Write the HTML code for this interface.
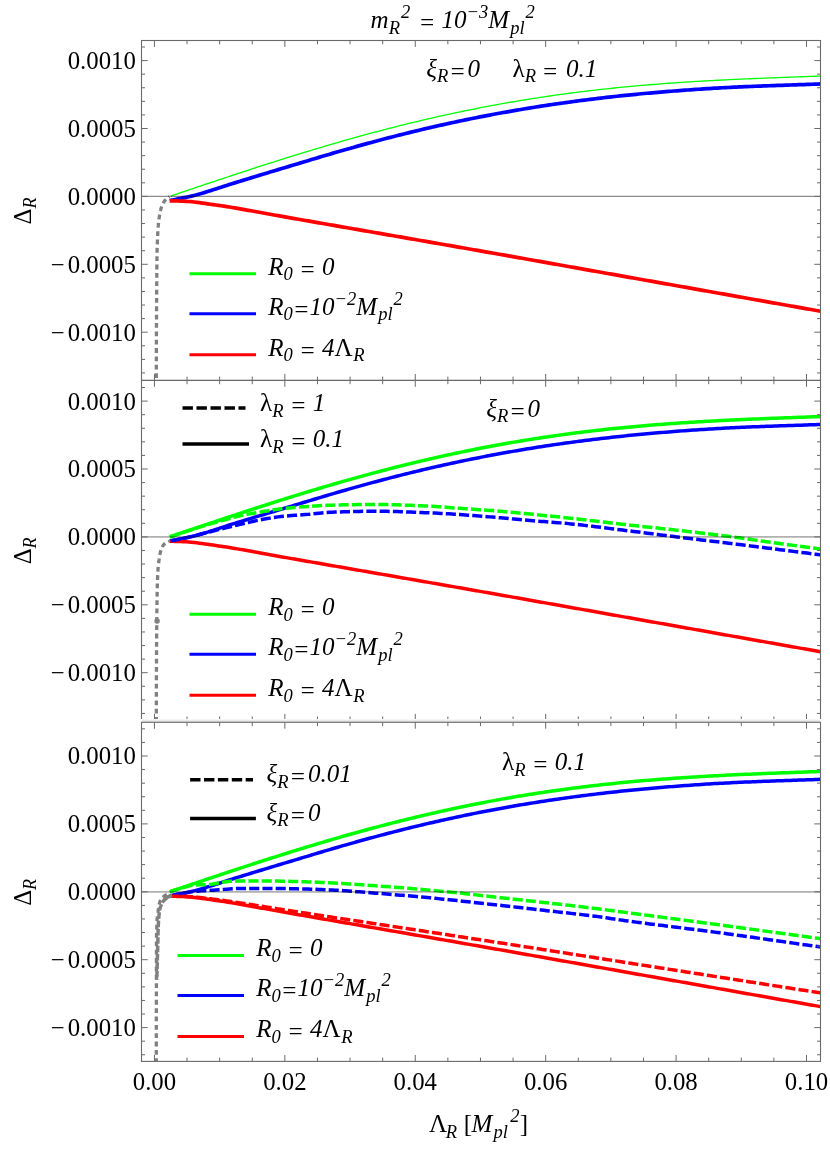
<!DOCTYPE html>
<html><head><meta charset="utf-8"><title>plot</title>
<style>html,body{margin:0;padding:0;background:#fff;}body{width:830px;height:1149px;overflow:hidden;font-family:"Liberation Serif",serif;}</style></head>
<body>
<svg width="830" height="1149" viewBox="0 0 830 1149" style="display:block;will-change:transform">
<rect width="830" height="1149" fill="#fff"/>
<defs>
<clipPath id="cp0"><rect x="141.50" y="40.50" width="679.00" height="339.90"/></clipPath>
<clipPath id="cp1"><rect x="141.50" y="380.40" width="679.00" height="339.90"/></clipPath>
<clipPath id="cp2"><rect x="141.50" y="722.30" width="679.00" height="339.10"/></clipPath>
</defs>
<g clip-path="url(#cp0)">
<path d="M169.30 196.65 L168.75 197.03 L168.21 197.40 L167.70 197.78 L167.23 198.16 L166.79 198.53 L166.39 198.91 L166.01 199.29 L165.64 199.66 L165.30 200.04 L164.97 200.42 L164.66 200.79 L164.38 201.17 L164.12 201.55 L163.89 201.92 L163.67 202.30 L163.46 202.68 L163.26 203.05 L163.06 203.43 L162.88 203.81 L162.69 204.18 L162.52 204.56 L162.35 204.93 L162.18 205.31 L162.02 205.69 L161.87 206.06 L161.72 206.44 L161.58 206.82 L161.45 207.19 L161.32 207.57 L161.20 207.95 L161.08 208.32 L160.97 208.70 L160.86 209.08 L160.76 209.45 L160.67 209.83 L160.57 210.21 L160.48 210.58 L160.40 210.96 L160.31 211.34 L160.23 211.71 L160.15 212.09 L160.08 212.47 L160.01 212.84 L159.94 213.22 L159.87 213.60 L159.80 213.97 L159.74 214.35 L159.67 214.73 L159.61 215.10 L159.55 215.48 L159.49 215.86 L159.43 216.23 L159.38 216.61 L159.32 216.99 L159.26 217.36 L159.21 217.74 L159.15 218.12 L159.10 218.49 L159.05 218.87 L158.99 219.24 L158.94 219.62 L158.89 220.00 L158.84 220.37 L158.79 220.75 L158.74 221.13 L158.69 221.50 L158.65 221.88 L158.60 222.26 L158.56 222.63 L158.51 223.01 L158.47 223.39 L158.43 223.76 L158.39 224.14 L158.35 224.52 L158.31 224.89 L158.28 225.27 L158.25 225.65 L158.21 226.02 L158.18 226.40 L158.15 226.90 L158.01 228.87 L157.89 230.84 L157.79 232.81 L157.69 234.77 L157.59 236.74 L157.51 238.71 L157.43 240.68 L157.36 242.65 L157.28 244.62 L157.20 246.58 L157.13 248.55 L157.09 250.52 L157.06 252.49 L157.03 254.46 L157.00 256.43 L156.97 258.39 L156.95 260.36 L156.92 262.33 L156.90 264.30 L156.88 266.27 L156.86 268.24 L156.85 270.20 L156.83 272.17 L156.81 274.14 L156.80 276.11 L156.79 278.08 L156.77 280.05 L156.76 282.01 L156.74 283.98 L156.73 285.95 L156.72 287.92 L156.70 289.89 L156.69 291.86 L156.67 293.82 L156.66 295.79 L156.64 297.76 L156.63 299.73 L156.61 301.70 L156.60 303.67 L156.59 305.63 L156.57 307.60 L156.56 309.57 L156.54 311.54 L156.53 313.51 L156.52 315.48 L156.51 317.44 L156.50 319.41 L156.48 321.38 L156.47 323.35 L156.46 325.32 L156.45 327.29 L156.44 329.25 L156.43 331.22 L156.43 333.19 L156.42 335.16 L156.41 337.13 L156.40 339.10 L156.40 341.06 L156.39 343.03 L156.38 345.00 L156.38 346.97 L156.37 348.94 L156.37 350.91 L156.36 352.87 L156.36 354.84 L156.35 356.81 L156.34 358.78 L156.34 360.75 L156.33 362.72 L156.33 364.68 L156.33 366.65 L156.32 368.62 L156.32 370.59 L156.31 372.56 L156.31 374.53 L156.31 376.49 L156.31 378.46 L156.30 380.43 L156.30 382.40" stroke="#808080" stroke-width="3.30" stroke-dasharray="4.80 3.55" stroke-dashoffset="3.97" fill="none"/>
<path d="M170.61 196.09 L173.32 195.18 L176.03 194.27 L178.73 193.35 L181.44 192.44 L184.15 191.53 L186.86 190.61 L189.57 189.70 L192.27 188.79 L194.98 187.88 L197.69 186.96 L200.40 186.05 L203.11 185.14 L205.81 184.24 L208.52 183.33 L211.23 182.42 L213.94 181.51 L216.65 180.61 L219.35 179.71 L222.06 178.80 L224.77 177.90 L227.48 177.00 L230.19 176.11 L232.89 175.21 L235.60 174.32 L238.31 173.42 L241.02 172.53 L243.73 171.64 L246.43 170.76 L249.14 169.87 L251.85 168.99 L254.56 168.11 L257.27 167.23 L259.97 166.36 L262.68 165.48 L265.39 164.61 L268.10 163.74 L270.81 162.88 L273.51 162.02 L276.22 161.16 L278.93 160.30 L281.64 159.44 L284.35 158.59 L287.05 157.74 L289.76 156.90 L292.47 156.06 L295.18 155.22 L297.88 154.38 L300.59 153.55 L303.30 152.72 L306.01 151.89 L308.72 151.07 L311.42 150.25 L314.13 149.43 L316.84 148.62 L319.55 147.81 L322.26 147.01 L324.96 146.21 L327.67 145.41 L330.38 144.62 L333.09 143.83 L335.80 143.04 L338.50 142.26 L341.21 141.48 L343.92 140.71 L346.63 139.94 L349.34 139.18 L352.04 138.42 L354.75 137.66 L357.46 136.91 L360.17 136.16 L362.88 135.41 L365.58 134.68 L368.29 133.94 L371.00 133.21 L373.71 132.48 L376.42 131.76 L379.12 131.05 L381.83 130.33 L384.54 129.63 L387.25 128.92 L389.96 128.22 L392.66 127.53 L395.37 126.84 L398.08 126.16 L400.79 125.48 L403.49 124.80 L406.20 124.14 L408.91 123.47 L411.62 122.81 L414.33 122.16 L417.03 121.51 L419.74 120.86 L422.45 120.22 L425.16 119.59 L427.87 118.96 L430.57 118.33 L433.28 117.71 L435.99 117.10 L438.70 116.49 L441.41 115.88 L444.11 115.28 L446.82 114.69 L449.53 114.10 L452.24 113.52 L454.95 112.94 L457.65 112.37 L460.36 111.80 L463.07 111.24 L465.78 110.68 L468.49 110.13 L471.19 109.58 L473.90 109.04 L476.61 108.50 L479.32 107.97 L482.03 107.44 L484.73 106.92 L487.44 106.41 L490.15 105.90 L492.86 105.39 L495.57 104.89 L498.27 104.40 L500.98 103.91 L503.69 103.42 L506.40 102.94 L509.10 102.47 L511.81 102.00 L514.52 101.54 L517.23 101.08 L519.94 100.63 L522.64 100.18 L525.35 99.74 L528.06 99.30 L530.77 98.87 L533.48 98.44 L536.18 98.02 L538.89 97.61 L541.60 97.20 L544.31 96.79 L547.02 96.39 L549.72 95.99 L552.43 95.60 L555.14 95.22 L557.85 94.84 L560.56 94.46 L563.26 94.09 L565.97 93.73 L568.68 93.37 L571.39 93.01 L574.10 92.66 L576.80 92.31 L579.51 91.97 L582.22 91.64 L584.93 91.31 L587.64 90.98 L590.34 90.66 L593.05 90.34 L595.76 90.03 L598.47 89.72 L601.18 89.42 L603.88 89.12 L606.59 88.83 L609.30 88.54 L612.01 88.26 L614.72 87.98 L617.42 87.70 L620.13 87.43 L622.84 87.16 L625.55 86.90 L628.25 86.64 L630.96 86.39 L633.67 86.14 L636.38 85.90 L639.09 85.65 L641.79 85.42 L644.50 85.18 L647.21 84.96 L649.92 84.73 L652.63 84.51 L655.33 84.29 L658.04 84.08 L660.75 83.87 L663.46 83.66 L666.17 83.46 L668.87 83.26 L671.58 83.07 L674.29 82.88 L677.00 82.69 L679.71 82.51 L682.41 82.33 L685.12 82.15 L687.83 81.97 L690.54 81.80 L693.25 81.63 L695.95 81.47 L698.66 81.31 L701.37 81.15 L704.08 80.99 L706.79 80.84 L709.49 80.69 L712.20 80.54 L714.91 80.40 L717.62 80.25 L720.33 80.12 L723.03 79.98 L725.74 79.84 L728.45 79.71 L731.16 79.58 L733.86 79.45 L736.57 79.33 L739.28 79.20 L741.99 79.08 L744.70 78.96 L747.40 78.84 L750.11 78.73 L752.82 78.61 L755.53 78.50 L758.24 78.39 L760.94 78.28 L763.65 78.17 L766.36 78.06 L769.07 77.96 L771.78 77.85 L774.48 77.75 L777.19 77.64 L779.90 77.54 L782.61 77.44 L785.32 77.34 L788.02 77.24 L790.73 77.14 L793.44 77.04 L796.15 76.95 L798.86 76.85 L801.56 76.75 L804.27 76.65 L806.98 76.56 L809.69 76.46 L812.40 76.36 L815.10 76.26 L817.81 76.17 L820.52 76.07" stroke="#00ff00" stroke-width="1.3" fill="none"/>
<path d="M169.70 200.53 L172.41 199.99 L175.12 199.45 L177.83 198.90 L180.55 198.37 L183.26 197.85 L185.97 197.32 L188.68 196.74 L191.39 196.11 L194.10 195.45 L196.82 194.75 L199.53 193.99 L202.24 193.20 L204.95 192.38 L207.66 191.55 L210.37 190.70 L213.09 189.84 L215.80 188.96 L218.51 188.08 L221.22 187.19 L223.93 186.29 L226.65 185.40 L229.36 184.52 L232.07 183.68 L234.78 182.86 L237.49 182.04 L240.20 181.21 L242.92 180.36 L245.63 179.53 L248.34 178.69 L251.05 177.86 L253.76 177.03 L256.47 176.20 L259.19 175.37 L261.90 174.55 L264.61 173.73 L267.32 172.90 L270.03 172.09 L272.74 171.27 L275.46 170.45 L278.17 169.63 L280.88 168.82 L283.59 168.00 L286.30 167.19 L289.02 166.37 L291.73 165.56 L294.44 164.74 L297.15 163.93 L299.86 163.11 L302.57 162.29 L305.29 161.47 L308.00 160.66 L310.71 159.84 L313.42 159.02 L316.13 158.20 L318.84 157.39 L321.56 156.58 L324.27 155.78 L326.98 154.98 L329.69 154.18 L332.40 153.38 L335.12 152.59 L337.83 151.80 L340.54 151.02 L343.25 150.24 L345.96 149.46 L348.67 148.69 L351.39 147.92 L354.10 147.16 L356.81 146.40 L359.52 145.64 L362.23 144.89 L364.94 144.14 L367.66 143.40 L370.37 142.66 L373.08 141.93 L375.79 141.20 L378.50 140.47 L381.22 139.75 L383.93 139.04 L386.64 138.33 L389.35 137.62 L392.06 136.92 L394.77 136.23 L397.49 135.54 L400.20 134.85 L402.91 134.17 L405.62 133.50 L408.33 132.83 L411.04 132.16 L413.76 131.50 L416.47 130.84 L419.18 130.19 L421.89 129.55 L424.60 128.91 L427.31 128.27 L430.03 127.64 L432.74 127.02 L435.45 126.40 L438.16 125.78 L440.87 125.17 L443.59 124.57 L446.30 123.97 L449.01 123.37 L451.72 122.78 L454.43 122.20 L457.14 121.62 L459.86 121.04 L462.57 120.47 L465.28 119.91 L467.99 119.35 L470.70 118.80 L473.41 118.25 L476.13 117.70 L478.84 117.16 L481.55 116.63 L484.26 116.10 L486.97 115.58 L489.69 115.06 L492.40 114.55 L495.11 114.04 L497.82 113.54 L500.53 113.04 L503.24 112.55 L505.96 112.06 L508.67 111.57 L511.38 111.10 L514.09 110.62 L516.80 110.16 L519.51 109.70 L522.23 109.24 L524.94 108.79 L527.65 108.34 L530.36 107.90 L533.07 107.46 L535.79 107.03 L538.50 106.60 L541.21 106.18 L543.92 105.76 L546.63 105.35 L549.34 104.94 L552.06 104.54 L554.77 104.14 L557.48 103.75 L560.19 103.36 L562.90 102.98 L565.61 102.60 L568.33 102.23 L571.04 101.86 L573.75 101.49 L576.46 101.13 L579.17 100.77 L581.88 100.42 L584.60 100.07 L587.31 99.73 L590.02 99.39 L592.73 99.06 L595.44 98.73 L598.16 98.40 L600.87 98.08 L603.58 97.76 L606.29 97.45 L609.00 97.14 L611.71 96.83 L614.43 96.53 L617.14 96.24 L619.85 95.95 L622.56 95.66 L625.27 95.38 L627.98 95.10 L630.70 94.83 L633.41 94.56 L636.12 94.29 L638.83 94.03 L641.54 93.78 L644.26 93.53 L646.97 93.28 L649.68 93.04 L652.39 92.80 L655.10 92.56 L657.81 92.33 L660.53 92.10 L663.24 91.87 L665.95 91.65 L668.66 91.43 L671.37 91.22 L674.08 91.00 L676.80 90.79 L679.51 90.59 L682.22 90.38 L684.93 90.18 L687.64 89.99 L690.36 89.80 L693.07 89.61 L695.78 89.42 L698.49 89.24 L701.20 89.06 L703.91 88.89 L706.63 88.71 L709.34 88.55 L712.05 88.38 L714.76 88.22 L717.47 88.07 L720.18 87.91 L722.90 87.76 L725.61 87.62 L728.32 87.48 L731.03 87.34 L733.74 87.21 L736.45 87.08 L739.17 86.95 L741.88 86.83 L744.59 86.71 L747.30 86.59 L750.01 86.48 L752.73 86.37 L755.44 86.26 L758.15 86.15 L760.86 86.05 L763.57 85.95 L766.28 85.85 L769.00 85.75 L771.71 85.66 L774.42 85.56 L777.13 85.47 L779.84 85.37 L782.55 85.28 L785.27 85.19 L787.98 85.09 L790.69 85.00 L793.40 84.91 L796.11 84.81 L798.83 84.72 L801.54 84.63 L804.25 84.53 L806.96 84.43 L809.67 84.34 L812.38 84.24 L815.10 84.14 L817.81 84.04 L820.52 83.94" stroke="#0000ff" stroke-width="3.7" fill="none"/>
<path d="M169.70 200.83 L172.41 200.86 L175.12 200.91 L177.83 200.98 L180.55 201.06 L183.26 201.17 L185.97 201.32 L188.68 201.49 L191.39 201.71 L194.10 202.01 L196.82 202.35 L199.53 202.69 L202.24 203.05 L204.95 203.43 L207.66 203.82 L210.37 204.21 L213.09 204.60 L215.80 205.00 L218.51 205.40 L221.22 205.79 L223.93 206.19 L226.65 206.60 L229.36 207.02 L232.07 207.47 L234.78 207.92 L237.49 208.39 L240.20 208.86 L242.92 209.34 L245.63 209.82 L248.34 210.31 L251.05 210.80 L253.76 211.29 L256.47 211.78 L259.19 212.27 L261.90 212.76 L264.61 213.24 L267.32 213.73 L270.03 214.22 L272.74 214.71 L275.46 215.20 L278.17 215.69 L280.88 216.17 L283.59 216.66 L286.30 217.14 L289.02 217.62 L291.73 218.10 L294.44 218.57 L297.15 219.05 L299.86 219.52 L302.57 219.99 L305.29 220.46 L308.00 220.93 L310.71 221.40 L313.42 221.87 L316.13 222.34 L318.84 222.82 L321.56 223.29 L324.27 223.76 L326.98 224.23 L329.69 224.70 L332.40 225.18 L335.12 225.65 L337.83 226.12 L340.54 226.59 L343.25 227.06 L345.96 227.53 L348.67 228.00 L351.39 228.47 L354.10 228.95 L356.81 229.42 L359.52 229.89 L362.23 230.36 L364.94 230.83 L367.66 231.30 L370.37 231.77 L373.08 232.24 L375.79 232.71 L378.50 233.18 L381.22 233.65 L383.93 234.12 L386.64 234.59 L389.35 235.06 L392.06 235.53 L394.77 236.00 L397.49 236.47 L400.20 236.94 L402.91 237.41 L405.62 237.88 L408.33 238.35 L411.04 238.83 L413.76 239.30 L416.47 239.77 L419.18 240.24 L421.89 240.71 L424.60 241.18 L427.31 241.65 L430.03 242.12 L432.74 242.60 L435.45 243.07 L438.16 243.54 L440.87 244.01 L443.59 244.49 L446.30 244.96 L449.01 245.43 L451.72 245.90 L454.43 246.38 L457.14 246.85 L459.86 247.32 L462.57 247.80 L465.28 248.27 L467.99 248.75 L470.70 249.22 L473.41 249.70 L476.13 250.17 L478.84 250.65 L481.55 251.13 L484.26 251.60 L486.97 252.08 L489.69 252.56 L492.40 253.03 L495.11 253.51 L497.82 253.99 L500.53 254.47 L503.24 254.94 L505.96 255.42 L508.67 255.90 L511.38 256.38 L514.09 256.86 L516.80 257.34 L519.51 257.82 L522.23 258.30 L524.94 258.78 L527.65 259.26 L530.36 259.74 L533.07 260.22 L535.79 260.70 L538.50 261.18 L541.21 261.66 L543.92 262.14 L546.63 262.62 L549.34 263.10 L552.06 263.58 L554.77 264.06 L557.48 264.54 L560.19 265.02 L562.90 265.51 L565.61 265.99 L568.33 266.47 L571.04 266.95 L573.75 267.43 L576.46 267.91 L579.17 268.40 L581.88 268.88 L584.60 269.36 L587.31 269.84 L590.02 270.33 L592.73 270.81 L595.44 271.29 L598.16 271.77 L600.87 272.25 L603.58 272.74 L606.29 273.22 L609.00 273.70 L611.71 274.18 L614.43 274.67 L617.14 275.15 L619.85 275.63 L622.56 276.11 L625.27 276.60 L627.98 277.08 L630.70 277.56 L633.41 278.04 L636.12 278.52 L638.83 279.01 L641.54 279.49 L644.26 279.97 L646.97 280.45 L649.68 280.93 L652.39 281.42 L655.10 281.90 L657.81 282.38 L660.53 282.86 L663.24 283.34 L665.95 283.82 L668.66 284.30 L671.37 284.78 L674.08 285.27 L676.80 285.75 L679.51 286.23 L682.22 286.71 L684.93 287.19 L687.64 287.67 L690.36 288.15 L693.07 288.63 L695.78 289.11 L698.49 289.59 L701.20 290.08 L703.91 290.56 L706.63 291.04 L709.34 291.52 L712.05 292.00 L714.76 292.48 L717.47 292.96 L720.18 293.45 L722.90 293.93 L725.61 294.41 L728.32 294.89 L731.03 295.37 L733.74 295.85 L736.45 296.33 L739.17 296.82 L741.88 297.30 L744.59 297.78 L747.30 298.26 L750.01 298.74 L752.73 299.22 L755.44 299.70 L758.15 300.18 L760.86 300.66 L763.57 301.14 L766.28 301.63 L769.00 302.11 L771.71 302.59 L774.42 303.07 L777.13 303.55 L779.84 304.03 L782.55 304.51 L785.27 304.99 L787.98 305.47 L790.69 305.95 L793.40 306.43 L796.11 306.90 L798.83 307.38 L801.54 307.86 L804.25 308.34 L806.96 308.82 L809.67 309.30 L812.38 309.78 L815.10 310.25 L817.81 310.73 L820.52 311.21" stroke="#ff0000" stroke-width="3.7" fill="none"/>
<path d="M141.50 196.40 H820.50" stroke="#000" stroke-opacity="0.45" stroke-width="1.1" fill="none"/>
</g>
<g clip-path="url(#cp1)">
<path d="M169.30 541.20 L168.56 541.53 L167.86 541.85 L167.21 542.18 L166.62 542.50 L166.11 542.83 L165.62 543.15 L165.15 543.48 L164.71 543.80 L164.31 544.13 L163.94 544.45 L163.63 544.78 L163.37 545.10 L163.15 545.43 L162.95 545.75 L162.76 546.08 L162.57 546.41 L162.40 546.73 L162.23 547.06 L162.07 547.38 L161.92 547.71 L161.77 548.03 L161.63 548.36 L161.50 548.68 L161.37 549.01 L161.25 549.33 L161.14 549.66 L161.02 549.98 L160.92 550.31 L160.82 550.63 L160.72 550.96 L160.63 551.28 L160.54 551.61 L160.46 551.94 L160.38 552.26 L160.30 552.59 L160.22 552.91 L160.15 553.24 L160.08 553.56 L160.01 553.89 L159.94 554.21 L159.88 554.54 L159.81 554.86 L159.76 555.19 L159.70 555.51 L159.64 555.84 L159.59 556.16 L159.54 556.49 L159.48 556.82 L159.44 557.14 L159.39 557.47 L159.34 557.79 L159.29 558.12 L159.25 558.44 L159.20 558.77 L159.16 559.09 L159.12 559.42 L159.08 559.74 L159.03 560.07 L158.99 560.39 L158.95 560.72 L158.91 561.04 L158.87 561.37 L158.82 561.69 L158.78 562.02 L158.74 562.35 L158.70 562.67 L158.66 563.00 L158.62 563.32 L158.58 563.65 L158.54 563.97 L158.50 564.30 L158.46 564.62 L158.42 564.95 L158.38 565.27 L158.35 565.60 L158.31 565.92 L158.28 566.25 L158.24 566.57 L158.21 566.90 L158.16 567.40 L158.00 569.36 L157.88 571.32 L157.78 573.28 L157.70 575.24 L157.62 577.20 L157.54 579.16 L157.46 581.13 L157.39 583.09 L157.33 585.05 L157.29 587.01 L157.25 588.97 L157.21 590.93 L157.17 592.89 L157.13 594.85 L157.10 596.81 L157.07 598.77 L157.04 600.73 L157.01 602.69 L156.98 604.65 L156.95 606.62 L156.93 608.58 L156.90 610.54 L156.88 612.50 L156.85 614.46 L156.83 616.42 L156.81 618.38 L156.79 620.34 L156.77 622.30 L156.75 624.26 L156.74 626.22 L156.72 628.18 L156.70 630.14 L156.69 632.11 L156.67 634.07 L156.65 636.03 L156.64 637.99 L156.62 639.95 L156.61 641.91 L156.60 643.87 L156.58 645.83 L156.57 647.79 L156.55 649.75 L156.54 651.71 L156.53 653.67 L156.52 655.63 L156.50 657.59 L156.49 659.56 L156.48 661.52 L156.47 663.48 L156.46 665.44 L156.45 667.40 L156.44 669.36 L156.43 671.32 L156.43 673.28 L156.42 675.24 L156.41 677.20 L156.40 679.16 L156.40 681.12 L156.39 683.08 L156.39 685.05 L156.38 687.01 L156.37 688.97 L156.37 690.93 L156.36 692.89 L156.36 694.85 L156.35 696.81 L156.35 698.77 L156.34 700.73 L156.34 702.69 L156.33 704.65 L156.33 706.61 L156.32 708.57 L156.32 710.54 L156.32 712.50 L156.31 714.46 L156.31 716.42 L156.31 718.38 L156.30 720.34 L156.30 722.30" stroke="#808080" stroke-width="3.30" stroke-dasharray="4.80 3.55" stroke-dashoffset="3.70" fill="none"/>
<circle cx="157.1" cy="621.0" r="2.7" fill="#808080"/>
<path d="M169.70 536.90 L172.41 535.99 L175.12 535.07 L177.83 534.16 L180.55 533.24 L183.26 532.33 L185.97 531.41 L188.68 530.50 L191.39 529.58 L194.10 528.67 L196.82 527.76 L199.53 526.85 L202.24 525.94 L204.95 525.03 L207.66 524.12 L210.37 523.21 L213.09 522.30 L215.80 521.39 L218.51 520.49 L221.22 519.58 L223.93 518.68 L226.65 517.78 L229.36 516.88 L232.07 515.98 L234.78 515.09 L237.49 514.19 L240.20 513.30 L242.92 512.41 L245.63 511.52 L248.34 510.64 L251.05 509.75 L253.76 508.87 L256.47 507.99 L259.19 507.11 L261.90 506.24 L264.61 505.36 L267.32 504.49 L270.03 503.63 L272.74 502.76 L275.46 501.90 L278.17 501.04 L280.88 500.18 L283.59 499.33 L286.30 498.48 L289.02 497.63 L291.73 496.79 L294.44 495.94 L297.15 495.11 L299.86 494.27 L302.57 493.44 L305.29 492.61 L308.00 491.79 L310.71 490.97 L313.42 490.15 L316.13 489.33 L318.84 488.52 L321.56 487.72 L324.27 486.91 L326.98 486.11 L329.69 485.32 L332.40 484.53 L335.12 483.74 L337.83 482.96 L340.54 482.18 L343.25 481.40 L345.96 480.63 L348.67 479.86 L351.39 479.10 L354.10 478.34 L356.81 477.59 L359.52 476.84 L362.23 476.09 L364.94 475.35 L367.66 474.61 L370.37 473.88 L373.08 473.15 L375.79 472.43 L378.50 471.71 L381.22 471.00 L383.93 470.29 L386.64 469.58 L389.35 468.88 L392.06 468.18 L394.77 467.49 L397.49 466.81 L400.20 466.13 L402.91 465.45 L405.62 464.78 L408.33 464.11 L411.04 463.45 L413.76 462.79 L416.47 462.14 L419.18 461.50 L421.89 460.85 L424.60 460.22 L427.31 459.58 L430.03 458.96 L432.74 458.34 L435.45 457.72 L438.16 457.11 L440.87 456.50 L443.59 455.90 L446.30 455.31 L449.01 454.71 L451.72 454.13 L454.43 453.55 L457.14 452.97 L459.86 452.40 L462.57 451.84 L465.28 451.28 L467.99 450.73 L470.70 450.18 L473.41 449.63 L476.13 449.09 L478.84 448.56 L481.55 448.03 L484.26 447.51 L486.97 446.99 L489.69 446.48 L492.40 445.98 L495.11 445.47 L497.82 444.98 L500.53 444.49 L503.24 444.00 L505.96 443.52 L508.67 443.05 L511.38 442.58 L514.09 442.11 L516.80 441.65 L519.51 441.20 L522.23 440.75 L524.94 440.31 L527.65 439.87 L530.36 439.44 L533.07 439.01 L535.79 438.59 L538.50 438.17 L541.21 437.76 L543.92 437.35 L546.63 436.95 L549.34 436.55 L552.06 436.16 L554.77 435.77 L557.48 435.39 L560.19 435.01 L562.90 434.64 L565.61 434.27 L568.33 433.91 L571.04 433.56 L573.75 433.20 L576.46 432.86 L579.17 432.52 L581.88 432.18 L584.60 431.85 L587.31 431.52 L590.02 431.20 L592.73 430.88 L595.44 430.57 L598.16 430.26 L600.87 429.96 L603.58 429.66 L606.29 429.36 L609.00 429.07 L611.71 428.79 L614.43 428.51 L617.14 428.23 L619.85 427.96 L622.56 427.69 L625.27 427.43 L627.98 427.17 L630.70 426.91 L633.41 426.66 L636.12 426.42 L638.83 426.18 L641.54 425.94 L644.26 425.71 L646.97 425.48 L649.68 425.25 L652.39 425.03 L655.10 424.81 L657.81 424.60 L660.53 424.39 L663.24 424.18 L665.95 423.98 L668.66 423.78 L671.37 423.58 L674.08 423.39 L676.80 423.20 L679.51 423.02 L682.22 422.84 L684.93 422.66 L687.64 422.49 L690.36 422.31 L693.07 422.15 L695.78 421.98 L698.49 421.82 L701.20 421.66 L703.91 421.50 L706.63 421.35 L709.34 421.20 L712.05 421.05 L714.76 420.91 L717.47 420.76 L720.18 420.62 L722.90 420.48 L725.61 420.35 L728.32 420.22 L731.03 420.09 L733.74 419.96 L736.45 419.83 L739.17 419.71 L741.88 419.59 L744.59 419.47 L747.30 419.35 L750.01 419.23 L752.73 419.12 L755.44 419.00 L758.15 418.89 L760.86 418.78 L763.57 418.67 L766.28 418.57 L769.00 418.46 L771.71 418.35 L774.42 418.25 L777.13 418.15 L779.84 418.05 L782.55 417.94 L785.27 417.84 L787.98 417.74 L790.69 417.64 L793.40 417.55 L796.11 417.45 L798.83 417.35 L801.54 417.25 L804.25 417.15 L806.96 417.06 L809.67 416.96 L812.38 416.86 L815.10 416.76 L817.81 416.67 L820.52 416.57" stroke="#00ff00" stroke-width="3.5" fill="none"/>
<path d="M169.70 541.03 L172.41 540.49 L175.12 539.95 L177.83 539.40 L180.55 538.87 L183.26 538.35 L185.97 537.82 L188.68 537.24 L191.39 536.61 L194.10 535.95 L196.82 535.25 L199.53 534.49 L202.24 533.70 L204.95 532.88 L207.66 532.05 L210.37 531.20 L213.09 530.34 L215.80 529.46 L218.51 528.58 L221.22 527.69 L223.93 526.79 L226.65 525.90 L229.36 525.02 L232.07 524.18 L234.78 523.36 L237.49 522.54 L240.20 521.71 L242.92 520.86 L245.63 520.03 L248.34 519.19 L251.05 518.36 L253.76 517.53 L256.47 516.70 L259.19 515.87 L261.90 515.05 L264.61 514.23 L267.32 513.40 L270.03 512.59 L272.74 511.77 L275.46 510.95 L278.17 510.13 L280.88 509.32 L283.59 508.50 L286.30 507.69 L289.02 506.87 L291.73 506.06 L294.44 505.24 L297.15 504.43 L299.86 503.61 L302.57 502.79 L305.29 501.97 L308.00 501.16 L310.71 500.34 L313.42 499.52 L316.13 498.70 L318.84 497.89 L321.56 497.08 L324.27 496.28 L326.98 495.48 L329.69 494.68 L332.40 493.88 L335.12 493.09 L337.83 492.30 L340.54 491.52 L343.25 490.74 L345.96 489.96 L348.67 489.19 L351.39 488.42 L354.10 487.66 L356.81 486.90 L359.52 486.14 L362.23 485.39 L364.94 484.64 L367.66 483.90 L370.37 483.16 L373.08 482.43 L375.79 481.70 L378.50 480.97 L381.22 480.25 L383.93 479.54 L386.64 478.83 L389.35 478.12 L392.06 477.42 L394.77 476.73 L397.49 476.04 L400.20 475.35 L402.91 474.67 L405.62 474.00 L408.33 473.33 L411.04 472.66 L413.76 472.00 L416.47 471.34 L419.18 470.69 L421.89 470.05 L424.60 469.41 L427.31 468.77 L430.03 468.14 L432.74 467.52 L435.45 466.90 L438.16 466.28 L440.87 465.67 L443.59 465.07 L446.30 464.47 L449.01 463.87 L451.72 463.28 L454.43 462.70 L457.14 462.12 L459.86 461.54 L462.57 460.97 L465.28 460.41 L467.99 459.85 L470.70 459.30 L473.41 458.75 L476.13 458.20 L478.84 457.66 L481.55 457.13 L484.26 456.60 L486.97 456.08 L489.69 455.56 L492.40 455.05 L495.11 454.54 L497.82 454.04 L500.53 453.54 L503.24 453.05 L505.96 452.56 L508.67 452.07 L511.38 451.60 L514.09 451.12 L516.80 450.66 L519.51 450.20 L522.23 449.74 L524.94 449.29 L527.65 448.84 L530.36 448.40 L533.07 447.96 L535.79 447.53 L538.50 447.10 L541.21 446.68 L543.92 446.26 L546.63 445.85 L549.34 445.44 L552.06 445.04 L554.77 444.64 L557.48 444.25 L560.19 443.86 L562.90 443.48 L565.61 443.10 L568.33 442.73 L571.04 442.36 L573.75 441.99 L576.46 441.63 L579.17 441.27 L581.88 440.92 L584.60 440.57 L587.31 440.23 L590.02 439.89 L592.73 439.56 L595.44 439.23 L598.16 438.90 L600.87 438.58 L603.58 438.26 L606.29 437.95 L609.00 437.64 L611.71 437.33 L614.43 437.03 L617.14 436.74 L619.85 436.45 L622.56 436.16 L625.27 435.88 L627.98 435.60 L630.70 435.33 L633.41 435.06 L636.12 434.79 L638.83 434.53 L641.54 434.28 L644.26 434.03 L646.97 433.78 L649.68 433.54 L652.39 433.30 L655.10 433.06 L657.81 432.83 L660.53 432.60 L663.24 432.37 L665.95 432.15 L668.66 431.93 L671.37 431.72 L674.08 431.50 L676.80 431.29 L679.51 431.09 L682.22 430.88 L684.93 430.68 L687.64 430.49 L690.36 430.30 L693.07 430.11 L695.78 429.92 L698.49 429.74 L701.20 429.56 L703.91 429.39 L706.63 429.21 L709.34 429.05 L712.05 428.88 L714.76 428.72 L717.47 428.57 L720.18 428.41 L722.90 428.26 L725.61 428.12 L728.32 427.98 L731.03 427.84 L733.74 427.71 L736.45 427.58 L739.17 427.45 L741.88 427.33 L744.59 427.21 L747.30 427.09 L750.01 426.98 L752.73 426.87 L755.44 426.76 L758.15 426.65 L760.86 426.55 L763.57 426.45 L766.28 426.35 L769.00 426.25 L771.71 426.16 L774.42 426.06 L777.13 425.97 L779.84 425.87 L782.55 425.78 L785.27 425.69 L787.98 425.59 L790.69 425.50 L793.40 425.41 L796.11 425.31 L798.83 425.22 L801.54 425.13 L804.25 425.03 L806.96 424.93 L809.67 424.84 L812.38 424.74 L815.10 424.64 L817.81 424.54 L820.52 424.44" stroke="#0000ff" stroke-width="3.5" fill="none"/>
<path d="M169.70 541.33 L172.41 541.36 L175.12 541.41 L177.83 541.48 L180.55 541.56 L183.26 541.67 L185.97 541.82 L188.68 541.99 L191.39 542.21 L194.10 542.51 L196.82 542.85 L199.53 543.19 L202.24 543.55 L204.95 543.93 L207.66 544.32 L210.37 544.71 L213.09 545.10 L215.80 545.50 L218.51 545.90 L221.22 546.29 L223.93 546.69 L226.65 547.10 L229.36 547.52 L232.07 547.97 L234.78 548.42 L237.49 548.89 L240.20 549.36 L242.92 549.84 L245.63 550.32 L248.34 550.81 L251.05 551.30 L253.76 551.79 L256.47 552.28 L259.19 552.77 L261.90 553.26 L264.61 553.74 L267.32 554.23 L270.03 554.72 L272.74 555.21 L275.46 555.70 L278.17 556.19 L280.88 556.67 L283.59 557.16 L286.30 557.64 L289.02 558.12 L291.73 558.60 L294.44 559.07 L297.15 559.55 L299.86 560.02 L302.57 560.49 L305.29 560.96 L308.00 561.43 L310.71 561.90 L313.42 562.37 L316.13 562.84 L318.84 563.32 L321.56 563.79 L324.27 564.26 L326.98 564.73 L329.69 565.20 L332.40 565.68 L335.12 566.15 L337.83 566.62 L340.54 567.09 L343.25 567.56 L345.96 568.03 L348.67 568.50 L351.39 568.97 L354.10 569.45 L356.81 569.92 L359.52 570.39 L362.23 570.86 L364.94 571.33 L367.66 571.80 L370.37 572.27 L373.08 572.74 L375.79 573.21 L378.50 573.68 L381.22 574.15 L383.93 574.62 L386.64 575.09 L389.35 575.56 L392.06 576.03 L394.77 576.50 L397.49 576.97 L400.20 577.44 L402.91 577.91 L405.62 578.38 L408.33 578.85 L411.04 579.33 L413.76 579.80 L416.47 580.27 L419.18 580.74 L421.89 581.21 L424.60 581.68 L427.31 582.15 L430.03 582.62 L432.74 583.10 L435.45 583.57 L438.16 584.04 L440.87 584.51 L443.59 584.99 L446.30 585.46 L449.01 585.93 L451.72 586.40 L454.43 586.88 L457.14 587.35 L459.86 587.82 L462.57 588.30 L465.28 588.77 L467.99 589.25 L470.70 589.72 L473.41 590.20 L476.13 590.67 L478.84 591.15 L481.55 591.63 L484.26 592.10 L486.97 592.58 L489.69 593.06 L492.40 593.53 L495.11 594.01 L497.82 594.49 L500.53 594.97 L503.24 595.44 L505.96 595.92 L508.67 596.40 L511.38 596.88 L514.09 597.36 L516.80 597.84 L519.51 598.32 L522.23 598.80 L524.94 599.28 L527.65 599.76 L530.36 600.24 L533.07 600.72 L535.79 601.20 L538.50 601.68 L541.21 602.16 L543.92 602.64 L546.63 603.12 L549.34 603.60 L552.06 604.08 L554.77 604.56 L557.48 605.04 L560.19 605.52 L562.90 606.01 L565.61 606.49 L568.33 606.97 L571.04 607.45 L573.75 607.93 L576.46 608.41 L579.17 608.90 L581.88 609.38 L584.60 609.86 L587.31 610.34 L590.02 610.83 L592.73 611.31 L595.44 611.79 L598.16 612.27 L600.87 612.75 L603.58 613.24 L606.29 613.72 L609.00 614.20 L611.71 614.68 L614.43 615.17 L617.14 615.65 L619.85 616.13 L622.56 616.61 L625.27 617.10 L627.98 617.58 L630.70 618.06 L633.41 618.54 L636.12 619.02 L638.83 619.51 L641.54 619.99 L644.26 620.47 L646.97 620.95 L649.68 621.43 L652.39 621.92 L655.10 622.40 L657.81 622.88 L660.53 623.36 L663.24 623.84 L665.95 624.32 L668.66 624.80 L671.37 625.28 L674.08 625.77 L676.80 626.25 L679.51 626.73 L682.22 627.21 L684.93 627.69 L687.64 628.17 L690.36 628.65 L693.07 629.13 L695.78 629.61 L698.49 630.09 L701.20 630.58 L703.91 631.06 L706.63 631.54 L709.34 632.02 L712.05 632.50 L714.76 632.98 L717.47 633.46 L720.18 633.95 L722.90 634.43 L725.61 634.91 L728.32 635.39 L731.03 635.87 L733.74 636.35 L736.45 636.83 L739.17 637.32 L741.88 637.80 L744.59 638.28 L747.30 638.76 L750.01 639.24 L752.73 639.72 L755.44 640.20 L758.15 640.68 L760.86 641.16 L763.57 641.64 L766.28 642.13 L769.00 642.61 L771.71 643.09 L774.42 643.57 L777.13 644.05 L779.84 644.53 L782.55 645.01 L785.27 645.49 L787.98 645.97 L790.69 646.45 L793.40 646.93 L796.11 647.40 L798.83 647.88 L801.54 648.36 L804.25 648.84 L806.96 649.32 L809.67 649.80 L812.38 650.28 L815.10 650.75 L817.81 651.23 L820.52 651.71" stroke="#ff0000" stroke-width="3.5" fill="none"/>
<path d="M169.70 536.90 L172.41 535.99 L175.12 535.09 L177.83 534.19 L180.55 533.30 L183.26 532.41 L185.97 531.53 L188.68 530.66 L191.39 529.78 L194.10 528.90 L196.82 528.03 L199.53 527.17 L202.24 526.33 L204.95 525.50 L207.66 524.70 L210.37 523.90 L213.09 523.10 L215.80 522.30 L218.51 521.51 L221.22 520.72 L223.93 519.95 L226.65 519.20 L229.36 518.46 L232.07 517.75 L234.78 517.07 L237.49 516.41 L240.20 515.79 L242.92 515.20 L245.63 514.65 L248.34 514.13 L251.05 513.63 L253.76 513.16 L256.47 512.70 L259.19 512.25 L261.90 511.80 L264.61 511.35 L267.32 510.90 L270.03 510.44 L272.74 510.00 L275.46 509.57 L278.17 509.17 L280.88 508.81 L283.59 508.50 L286.30 508.22 L289.02 507.95 L291.73 507.71 L294.44 507.47 L297.15 507.26 L299.86 507.05 L302.57 506.85 L305.29 506.66 L308.00 506.48 L310.71 506.30 L313.42 506.12 L316.13 505.94 L318.84 505.77 L321.56 505.61 L324.27 505.46 L326.98 505.32 L329.69 505.21 L332.40 505.13 L335.12 505.06 L337.83 504.99 L340.54 504.92 L343.25 504.86 L345.96 504.80 L348.67 504.74 L351.39 504.69 L354.10 504.64 L356.81 504.59 L359.52 504.55 L362.23 504.52 L364.94 504.49 L367.66 504.47 L370.37 504.45 L373.08 504.45 L375.79 504.44 L378.50 504.46 L381.22 504.48 L383.93 504.51 L386.64 504.56 L389.35 504.62 L392.06 504.68 L394.77 504.76 L397.49 504.84 L400.20 504.93 L402.91 505.03 L405.62 505.13 L408.33 505.24 L411.04 505.35 L413.76 505.47 L416.47 505.59 L419.18 505.71 L421.89 505.83 L424.60 505.96 L427.31 506.08 L430.03 506.20 L432.74 506.34 L435.45 506.49 L438.16 506.66 L440.87 506.85 L443.59 507.04 L446.30 507.25 L449.01 507.46 L451.72 507.67 L454.43 507.89 L457.14 508.10 L459.86 508.31 L462.57 508.51 L465.28 508.70 L467.99 508.88 L470.70 509.07 L473.41 509.25 L476.13 509.44 L478.84 509.63 L481.55 509.81 L484.26 510.00 L486.97 510.20 L489.69 510.40 L492.40 510.61 L495.11 510.82 L497.82 511.04 L500.53 511.27 L503.24 511.51 L505.96 511.75 L508.67 512.00 L511.38 512.25 L514.09 512.51 L516.80 512.76 L519.51 513.03 L522.23 513.29 L524.94 513.55 L527.65 513.81 L530.36 514.07 L533.07 514.34 L535.79 514.60 L538.50 514.87 L541.21 515.14 L543.92 515.41 L546.63 515.68 L549.34 515.96 L552.06 516.23 L554.77 516.51 L557.48 516.79 L560.19 517.08 L562.90 517.37 L565.61 517.66 L568.33 517.95 L571.04 518.25 L573.75 518.55 L576.46 518.86 L579.17 519.17 L581.88 519.48 L584.60 519.80 L587.31 520.11 L590.02 520.43 L592.73 520.75 L595.44 521.07 L598.16 521.39 L600.87 521.71 L603.58 522.04 L606.29 522.36 L609.00 522.68 L611.71 523.00 L614.43 523.32 L617.14 523.63 L619.85 523.94 L622.56 524.25 L625.27 524.56 L627.98 524.87 L630.70 525.17 L633.41 525.47 L636.12 525.77 L638.83 526.06 L641.54 526.36 L644.26 526.65 L646.97 526.94 L649.68 527.24 L652.39 527.53 L655.10 527.82 L657.81 528.11 L660.53 528.41 L663.24 528.70 L665.95 528.99 L668.66 529.29 L671.37 529.59 L674.08 529.88 L676.80 530.18 L679.51 530.49 L682.22 530.79 L684.93 531.10 L687.64 531.41 L690.36 531.73 L693.07 532.04 L695.78 532.36 L698.49 532.68 L701.20 533.01 L703.91 533.33 L706.63 533.66 L709.34 533.98 L712.05 534.32 L714.76 534.65 L717.47 534.99 L720.18 535.33 L722.90 535.67 L725.61 536.01 L728.32 536.36 L731.03 536.72 L733.74 537.07 L736.45 537.44 L739.17 537.81 L741.88 538.19 L744.59 538.57 L747.30 538.96 L750.01 539.35 L752.73 539.75 L755.44 540.14 L758.15 540.53 L760.86 540.93 L763.57 541.31 L766.28 541.70 L769.00 542.08 L771.71 542.46 L774.42 542.83 L777.13 543.20 L779.84 543.56 L782.55 543.93 L785.27 544.29 L787.98 544.65 L790.69 545.01 L793.40 545.37 L796.11 545.73 L798.83 546.09 L801.54 546.45 L804.25 546.81 L806.96 547.17 L809.67 547.52 L812.38 547.89 L815.10 548.25 L817.81 548.61 L820.52 548.98" stroke="#00ff00" stroke-width="3.50" stroke-dasharray="10.10 3.15" stroke-dashoffset="12.77" fill="none"/>
<path d="M169.70 541.04 L172.41 540.56 L175.12 540.06 L177.83 539.54 L180.55 538.99 L183.26 538.42 L185.97 537.84 L188.68 537.23 L191.39 536.58 L194.10 535.90 L196.82 535.19 L199.53 534.48 L202.24 533.77 L204.95 533.07 L207.66 532.38 L210.37 531.71 L213.09 531.02 L215.80 530.34 L218.51 529.66 L221.22 528.99 L223.93 528.31 L226.65 527.64 L229.36 526.97 L232.07 526.31 L234.78 525.66 L237.49 525.01 L240.20 524.37 L242.92 523.74 L245.63 523.11 L248.34 522.48 L251.05 521.85 L253.76 521.24 L256.47 520.65 L259.19 520.09 L261.90 519.56 L264.61 519.07 L267.32 518.59 L270.03 518.13 L272.74 517.68 L275.46 517.27 L278.17 516.88 L280.88 516.54 L283.59 516.24 L286.30 515.99 L289.02 515.76 L291.73 515.56 L294.44 515.37 L297.15 515.19 L299.86 515.01 L302.57 514.82 L305.29 514.61 L308.00 514.37 L310.71 514.10 L313.42 513.82 L316.13 513.53 L318.84 513.25 L321.56 512.97 L324.27 512.72 L326.98 512.50 L329.69 512.32 L332.40 512.19 L335.12 512.09 L337.83 511.99 L340.54 511.90 L343.25 511.81 L345.96 511.72 L348.67 511.64 L351.39 511.57 L354.10 511.50 L356.81 511.44 L359.52 511.38 L362.23 511.34 L364.94 511.30 L367.66 511.27 L370.37 511.25 L373.08 511.24 L375.79 511.23 L378.50 511.25 L381.22 511.27 L383.93 511.30 L386.64 511.34 L389.35 511.40 L392.06 511.46 L394.77 511.53 L397.49 511.61 L400.20 511.69 L402.91 511.78 L405.62 511.88 L408.33 511.98 L411.04 512.09 L413.76 512.19 L416.47 512.30 L419.18 512.41 L421.89 512.53 L424.60 512.64 L427.31 512.75 L430.03 512.86 L432.74 512.97 L435.45 513.10 L438.16 513.24 L440.87 513.38 L443.59 513.54 L446.30 513.70 L449.01 513.86 L451.72 514.03 L454.43 514.21 L457.14 514.39 L459.86 514.57 L462.57 514.75 L465.28 514.94 L467.99 515.13 L470.70 515.33 L473.41 515.54 L476.13 515.75 L478.84 515.97 L481.55 516.19 L484.26 516.42 L486.97 516.64 L489.69 516.87 L492.40 517.11 L495.11 517.34 L497.82 517.57 L500.53 517.81 L503.24 518.06 L505.96 518.32 L508.67 518.57 L511.38 518.83 L514.09 519.09 L516.80 519.35 L519.51 519.60 L522.23 519.85 L524.94 520.09 L527.65 520.33 L530.36 520.56 L533.07 520.78 L535.79 520.99 L538.50 521.19 L541.21 521.40 L543.92 521.60 L546.63 521.80 L549.34 522.00 L552.06 522.21 L554.77 522.42 L557.48 522.64 L560.19 522.87 L562.90 523.11 L565.61 523.36 L568.33 523.62 L571.04 523.89 L573.75 524.17 L576.46 524.46 L579.17 524.75 L581.88 525.06 L584.60 525.37 L587.31 525.69 L590.02 526.01 L592.73 526.34 L595.44 526.67 L598.16 527.00 L600.87 527.34 L603.58 527.68 L606.29 528.02 L609.00 528.37 L611.71 528.71 L614.43 529.05 L617.14 529.39 L619.85 529.73 L622.56 530.07 L625.27 530.40 L627.98 530.74 L630.70 531.08 L633.41 531.42 L636.12 531.76 L638.83 532.11 L641.54 532.45 L644.26 532.80 L646.97 533.15 L649.68 533.50 L652.39 533.85 L655.10 534.20 L657.81 534.54 L660.53 534.89 L663.24 535.24 L665.95 535.58 L668.66 535.92 L671.37 536.25 L674.08 536.59 L676.80 536.92 L679.51 537.26 L682.22 537.59 L684.93 537.92 L687.64 538.25 L690.36 538.58 L693.07 538.91 L695.78 539.24 L698.49 539.56 L701.20 539.89 L703.91 540.22 L706.63 540.55 L709.34 540.87 L712.05 541.20 L714.76 541.53 L717.47 541.86 L720.18 542.19 L722.90 542.52 L725.61 542.85 L728.32 543.18 L731.03 543.52 L733.74 543.85 L736.45 544.19 L739.17 544.53 L741.88 544.86 L744.59 545.20 L747.30 545.54 L750.01 545.88 L752.73 546.22 L755.44 546.56 L758.15 546.90 L760.86 547.24 L763.57 547.58 L766.28 547.92 L769.00 548.26 L771.71 548.61 L774.42 548.95 L777.13 549.29 L779.84 549.64 L782.55 549.98 L785.27 550.33 L787.98 550.68 L790.69 551.02 L793.40 551.37 L796.11 551.72 L798.83 552.06 L801.54 552.41 L804.25 552.76 L806.96 553.11 L809.67 553.46 L812.38 553.81 L815.10 554.16 L817.81 554.52 L820.52 554.87" stroke="#0000ff" stroke-width="3.50" stroke-dasharray="10.10 3.15" stroke-dashoffset="12.40" fill="none"/>
<path d="M141.50 536.90 H820.50" stroke="#000" stroke-opacity="0.31" stroke-width="1.8" fill="none"/>
</g>
<g clip-path="url(#cp2)">
<path d="M169.70 891.80 L172.41 890.89 L175.12 889.97 L177.83 889.06 L180.55 888.14 L183.26 887.23 L185.97 886.31 L188.68 885.40 L191.39 884.48 L194.10 883.57 L196.82 882.66 L199.53 881.75 L202.24 880.84 L204.95 879.93 L207.66 879.02 L210.37 878.11 L213.09 877.20 L215.80 876.29 L218.51 875.39 L221.22 874.48 L223.93 873.58 L226.65 872.68 L229.36 871.78 L232.07 870.88 L234.78 869.99 L237.49 869.09 L240.20 868.20 L242.92 867.31 L245.63 866.42 L248.34 865.54 L251.05 864.65 L253.76 863.77 L256.47 862.89 L259.19 862.01 L261.90 861.14 L264.61 860.26 L267.32 859.39 L270.03 858.53 L272.74 857.66 L275.46 856.80 L278.17 855.94 L280.88 855.08 L283.59 854.23 L286.30 853.38 L289.02 852.53 L291.73 851.69 L294.44 850.84 L297.15 850.01 L299.86 849.17 L302.57 848.34 L305.29 847.51 L308.00 846.69 L310.71 845.87 L313.42 845.05 L316.13 844.23 L318.84 843.42 L321.56 842.62 L324.27 841.81 L326.98 841.01 L329.69 840.22 L332.40 839.43 L335.12 838.64 L337.83 837.86 L340.54 837.08 L343.25 836.30 L345.96 835.53 L348.67 834.76 L351.39 834.00 L354.10 833.24 L356.81 832.49 L359.52 831.74 L362.23 830.99 L364.94 830.25 L367.66 829.51 L370.37 828.78 L373.08 828.05 L375.79 827.33 L378.50 826.61 L381.22 825.90 L383.93 825.19 L386.64 824.48 L389.35 823.78 L392.06 823.08 L394.77 822.39 L397.49 821.71 L400.20 821.03 L402.91 820.35 L405.62 819.68 L408.33 819.01 L411.04 818.35 L413.76 817.69 L416.47 817.04 L419.18 816.40 L421.89 815.75 L424.60 815.12 L427.31 814.48 L430.03 813.86 L432.74 813.24 L435.45 812.62 L438.16 812.01 L440.87 811.40 L443.59 810.80 L446.30 810.21 L449.01 809.61 L451.72 809.03 L454.43 808.45 L457.14 807.87 L459.86 807.30 L462.57 806.74 L465.28 806.18 L467.99 805.63 L470.70 805.08 L473.41 804.53 L476.13 803.99 L478.84 803.46 L481.55 802.93 L484.26 802.41 L486.97 801.89 L489.69 801.38 L492.40 800.88 L495.11 800.37 L497.82 799.88 L500.53 799.39 L503.24 798.90 L505.96 798.42 L508.67 797.95 L511.38 797.48 L514.09 797.01 L516.80 796.55 L519.51 796.10 L522.23 795.65 L524.94 795.21 L527.65 794.77 L530.36 794.34 L533.07 793.91 L535.79 793.49 L538.50 793.07 L541.21 792.66 L543.92 792.25 L546.63 791.85 L549.34 791.45 L552.06 791.06 L554.77 790.67 L557.48 790.29 L560.19 789.91 L562.90 789.54 L565.61 789.17 L568.33 788.81 L571.04 788.46 L573.75 788.10 L576.46 787.76 L579.17 787.42 L581.88 787.08 L584.60 786.75 L587.31 786.42 L590.02 786.10 L592.73 785.78 L595.44 785.47 L598.16 785.16 L600.87 784.86 L603.58 784.56 L606.29 784.26 L609.00 783.97 L611.71 783.69 L614.43 783.41 L617.14 783.13 L619.85 782.86 L622.56 782.59 L625.27 782.33 L627.98 782.07 L630.70 781.81 L633.41 781.56 L636.12 781.32 L638.83 781.08 L641.54 780.84 L644.26 780.61 L646.97 780.38 L649.68 780.15 L652.39 779.93 L655.10 779.71 L657.81 779.50 L660.53 779.29 L663.24 779.08 L665.95 778.88 L668.66 778.68 L671.37 778.48 L674.08 778.29 L676.80 778.10 L679.51 777.92 L682.22 777.74 L684.93 777.56 L687.64 777.39 L690.36 777.21 L693.07 777.05 L695.78 776.88 L698.49 776.72 L701.20 776.56 L703.91 776.40 L706.63 776.25 L709.34 776.10 L712.05 775.95 L714.76 775.81 L717.47 775.66 L720.18 775.52 L722.90 775.38 L725.61 775.25 L728.32 775.12 L731.03 774.99 L733.74 774.86 L736.45 774.73 L739.17 774.61 L741.88 774.49 L744.59 774.37 L747.30 774.25 L750.01 774.13 L752.73 774.02 L755.44 773.90 L758.15 773.79 L760.86 773.68 L763.57 773.57 L766.28 773.47 L769.00 773.36 L771.71 773.25 L774.42 773.15 L777.13 773.05 L779.84 772.95 L782.55 772.84 L785.27 772.74 L787.98 772.64 L790.69 772.54 L793.40 772.45 L796.11 772.35 L798.83 772.25 L801.54 772.15 L804.25 772.05 L806.96 771.96 L809.67 771.86 L812.38 771.76 L815.10 771.66 L817.81 771.57 L820.52 771.47" stroke="#00ff00" stroke-width="3.5" fill="none"/>
<path d="M169.70 895.93 L172.41 895.39 L175.12 894.85 L177.83 894.30 L180.55 893.77 L183.26 893.25 L185.97 892.72 L188.68 892.14 L191.39 891.51 L194.10 890.85 L196.82 890.15 L199.53 889.39 L202.24 888.60 L204.95 887.78 L207.66 886.95 L210.37 886.10 L213.09 885.24 L215.80 884.36 L218.51 883.48 L221.22 882.59 L223.93 881.69 L226.65 880.80 L229.36 879.92 L232.07 879.08 L234.78 878.26 L237.49 877.44 L240.20 876.61 L242.92 875.76 L245.63 874.93 L248.34 874.09 L251.05 873.26 L253.76 872.43 L256.47 871.60 L259.19 870.77 L261.90 869.95 L264.61 869.13 L267.32 868.30 L270.03 867.49 L272.74 866.67 L275.46 865.85 L278.17 865.03 L280.88 864.22 L283.59 863.40 L286.30 862.59 L289.02 861.77 L291.73 860.96 L294.44 860.14 L297.15 859.33 L299.86 858.51 L302.57 857.69 L305.29 856.87 L308.00 856.06 L310.71 855.24 L313.42 854.42 L316.13 853.60 L318.84 852.79 L321.56 851.98 L324.27 851.18 L326.98 850.38 L329.69 849.58 L332.40 848.78 L335.12 847.99 L337.83 847.20 L340.54 846.42 L343.25 845.64 L345.96 844.86 L348.67 844.09 L351.39 843.32 L354.10 842.56 L356.81 841.80 L359.52 841.04 L362.23 840.29 L364.94 839.54 L367.66 838.80 L370.37 838.06 L373.08 837.33 L375.79 836.60 L378.50 835.87 L381.22 835.15 L383.93 834.44 L386.64 833.73 L389.35 833.02 L392.06 832.32 L394.77 831.63 L397.49 830.94 L400.20 830.25 L402.91 829.57 L405.62 828.90 L408.33 828.23 L411.04 827.56 L413.76 826.90 L416.47 826.24 L419.18 825.59 L421.89 824.95 L424.60 824.31 L427.31 823.67 L430.03 823.04 L432.74 822.42 L435.45 821.80 L438.16 821.18 L440.87 820.57 L443.59 819.97 L446.30 819.37 L449.01 818.77 L451.72 818.18 L454.43 817.60 L457.14 817.02 L459.86 816.44 L462.57 815.87 L465.28 815.31 L467.99 814.75 L470.70 814.20 L473.41 813.65 L476.13 813.10 L478.84 812.56 L481.55 812.03 L484.26 811.50 L486.97 810.98 L489.69 810.46 L492.40 809.95 L495.11 809.44 L497.82 808.94 L500.53 808.44 L503.24 807.95 L505.96 807.46 L508.67 806.97 L511.38 806.50 L514.09 806.02 L516.80 805.56 L519.51 805.10 L522.23 804.64 L524.94 804.19 L527.65 803.74 L530.36 803.30 L533.07 802.86 L535.79 802.43 L538.50 802.00 L541.21 801.58 L543.92 801.16 L546.63 800.75 L549.34 800.34 L552.06 799.94 L554.77 799.54 L557.48 799.15 L560.19 798.76 L562.90 798.38 L565.61 798.00 L568.33 797.63 L571.04 797.26 L573.75 796.89 L576.46 796.53 L579.17 796.17 L581.88 795.82 L584.60 795.47 L587.31 795.13 L590.02 794.79 L592.73 794.46 L595.44 794.13 L598.16 793.80 L600.87 793.48 L603.58 793.16 L606.29 792.85 L609.00 792.54 L611.71 792.23 L614.43 791.93 L617.14 791.64 L619.85 791.35 L622.56 791.06 L625.27 790.78 L627.98 790.50 L630.70 790.23 L633.41 789.96 L636.12 789.69 L638.83 789.43 L641.54 789.18 L644.26 788.93 L646.97 788.68 L649.68 788.44 L652.39 788.20 L655.10 787.96 L657.81 787.73 L660.53 787.50 L663.24 787.27 L665.95 787.05 L668.66 786.83 L671.37 786.62 L674.08 786.40 L676.80 786.19 L679.51 785.99 L682.22 785.78 L684.93 785.58 L687.64 785.39 L690.36 785.20 L693.07 785.01 L695.78 784.82 L698.49 784.64 L701.20 784.46 L703.91 784.29 L706.63 784.11 L709.34 783.95 L712.05 783.78 L714.76 783.62 L717.47 783.47 L720.18 783.31 L722.90 783.16 L725.61 783.02 L728.32 782.88 L731.03 782.74 L733.74 782.61 L736.45 782.48 L739.17 782.35 L741.88 782.23 L744.59 782.11 L747.30 781.99 L750.01 781.88 L752.73 781.77 L755.44 781.66 L758.15 781.55 L760.86 781.45 L763.57 781.35 L766.28 781.25 L769.00 781.15 L771.71 781.06 L774.42 780.96 L777.13 780.87 L779.84 780.77 L782.55 780.68 L785.27 780.59 L787.98 780.49 L790.69 780.40 L793.40 780.31 L796.11 780.21 L798.83 780.12 L801.54 780.03 L804.25 779.93 L806.96 779.83 L809.67 779.74 L812.38 779.64 L815.10 779.54 L817.81 779.44 L820.52 779.34" stroke="#0000ff" stroke-width="3.5" fill="none"/>
<path d="M169.70 896.23 L172.41 896.26 L175.12 896.31 L177.83 896.38 L180.55 896.46 L183.26 896.57 L185.97 896.72 L188.68 896.89 L191.39 897.11 L194.10 897.41 L196.82 897.75 L199.53 898.09 L202.24 898.45 L204.95 898.83 L207.66 899.22 L210.37 899.61 L213.09 900.00 L215.80 900.40 L218.51 900.80 L221.22 901.19 L223.93 901.59 L226.65 902.00 L229.36 902.42 L232.07 902.87 L234.78 903.32 L237.49 903.79 L240.20 904.26 L242.92 904.74 L245.63 905.22 L248.34 905.71 L251.05 906.20 L253.76 906.69 L256.47 907.18 L259.19 907.67 L261.90 908.16 L264.61 908.64 L267.32 909.13 L270.03 909.62 L272.74 910.11 L275.46 910.60 L278.17 911.09 L280.88 911.57 L283.59 912.06 L286.30 912.54 L289.02 913.02 L291.73 913.50 L294.44 913.97 L297.15 914.45 L299.86 914.92 L302.57 915.39 L305.29 915.86 L308.00 916.33 L310.71 916.80 L313.42 917.27 L316.13 917.74 L318.84 918.22 L321.56 918.69 L324.27 919.16 L326.98 919.63 L329.69 920.10 L332.40 920.58 L335.12 921.05 L337.83 921.52 L340.54 921.99 L343.25 922.46 L345.96 922.93 L348.67 923.40 L351.39 923.87 L354.10 924.35 L356.81 924.82 L359.52 925.29 L362.23 925.76 L364.94 926.23 L367.66 926.70 L370.37 927.17 L373.08 927.64 L375.79 928.11 L378.50 928.58 L381.22 929.05 L383.93 929.52 L386.64 929.99 L389.35 930.46 L392.06 930.93 L394.77 931.40 L397.49 931.87 L400.20 932.34 L402.91 932.81 L405.62 933.28 L408.33 933.75 L411.04 934.23 L413.76 934.70 L416.47 935.17 L419.18 935.64 L421.89 936.11 L424.60 936.58 L427.31 937.05 L430.03 937.52 L432.74 938.00 L435.45 938.47 L438.16 938.94 L440.87 939.41 L443.59 939.89 L446.30 940.36 L449.01 940.83 L451.72 941.30 L454.43 941.78 L457.14 942.25 L459.86 942.72 L462.57 943.20 L465.28 943.67 L467.99 944.15 L470.70 944.62 L473.41 945.10 L476.13 945.57 L478.84 946.05 L481.55 946.53 L484.26 947.00 L486.97 947.48 L489.69 947.96 L492.40 948.43 L495.11 948.91 L497.82 949.39 L500.53 949.87 L503.24 950.34 L505.96 950.82 L508.67 951.30 L511.38 951.78 L514.09 952.26 L516.80 952.74 L519.51 953.22 L522.23 953.70 L524.94 954.18 L527.65 954.66 L530.36 955.14 L533.07 955.62 L535.79 956.10 L538.50 956.58 L541.21 957.06 L543.92 957.54 L546.63 958.02 L549.34 958.50 L552.06 958.98 L554.77 959.46 L557.48 959.94 L560.19 960.42 L562.90 960.91 L565.61 961.39 L568.33 961.87 L571.04 962.35 L573.75 962.83 L576.46 963.31 L579.17 963.80 L581.88 964.28 L584.60 964.76 L587.31 965.24 L590.02 965.73 L592.73 966.21 L595.44 966.69 L598.16 967.17 L600.87 967.65 L603.58 968.14 L606.29 968.62 L609.00 969.10 L611.71 969.58 L614.43 970.07 L617.14 970.55 L619.85 971.03 L622.56 971.51 L625.27 972.00 L627.98 972.48 L630.70 972.96 L633.41 973.44 L636.12 973.92 L638.83 974.41 L641.54 974.89 L644.26 975.37 L646.97 975.85 L649.68 976.33 L652.39 976.82 L655.10 977.30 L657.81 977.78 L660.53 978.26 L663.24 978.74 L665.95 979.22 L668.66 979.70 L671.37 980.18 L674.08 980.67 L676.80 981.15 L679.51 981.63 L682.22 982.11 L684.93 982.59 L687.64 983.07 L690.36 983.55 L693.07 984.03 L695.78 984.51 L698.49 984.99 L701.20 985.48 L703.91 985.96 L706.63 986.44 L709.34 986.92 L712.05 987.40 L714.76 987.88 L717.47 988.36 L720.18 988.85 L722.90 989.33 L725.61 989.81 L728.32 990.29 L731.03 990.77 L733.74 991.25 L736.45 991.73 L739.17 992.22 L741.88 992.70 L744.59 993.18 L747.30 993.66 L750.01 994.14 L752.73 994.62 L755.44 995.10 L758.15 995.58 L760.86 996.06 L763.57 996.54 L766.28 997.03 L769.00 997.51 L771.71 997.99 L774.42 998.47 L777.13 998.95 L779.84 999.43 L782.55 999.91 L785.27 1000.39 L787.98 1000.87 L790.69 1001.35 L793.40 1001.83 L796.11 1002.30 L798.83 1002.78 L801.54 1003.26 L804.25 1003.74 L806.96 1004.22 L809.67 1004.70 L812.38 1005.18 L815.10 1005.65 L817.81 1006.13 L820.52 1006.61" stroke="#ff0000" stroke-width="3.5" fill="none"/>
<path d="M169.70 891.80 L172.41 890.90 L175.12 890.03 L177.83 889.20 L180.55 888.41 L183.26 887.59 L185.97 886.74 L188.68 885.96 L191.39 885.37 L194.10 885.08 L196.82 884.95 L199.53 884.87 L202.24 884.80 L204.95 884.72 L207.66 884.60 L210.37 884.37 L213.09 884.00 L215.80 883.55 L218.51 883.05 L221.22 882.54 L223.93 882.06 L226.65 881.65 L229.36 881.35 L232.07 881.21 L234.78 881.16 L237.49 881.12 L240.20 881.09 L242.92 881.05 L245.63 881.02 L248.34 881.00 L251.05 880.98 L253.76 880.96 L256.47 880.95 L259.19 880.94 L261.90 880.94 L264.61 880.94 L267.32 880.95 L270.03 880.97 L272.74 881.00 L275.46 881.04 L278.17 881.09 L280.88 881.14 L283.59 881.20 L286.30 881.27 L289.02 881.34 L291.73 881.41 L294.44 881.49 L297.15 881.57 L299.86 881.65 L302.57 881.74 L305.29 881.82 L308.00 881.91 L310.71 881.99 L313.42 882.08 L316.13 882.18 L318.84 882.28 L321.56 882.40 L324.27 882.52 L326.98 882.64 L329.69 882.78 L332.40 882.92 L335.12 883.07 L337.83 883.22 L340.54 883.38 L343.25 883.54 L345.96 883.71 L348.67 883.88 L351.39 884.05 L354.10 884.23 L356.81 884.42 L359.52 884.61 L362.23 884.80 L364.94 884.99 L367.66 885.18 L370.37 885.38 L373.08 885.58 L375.79 885.78 L378.50 885.99 L381.22 886.19 L383.93 886.39 L386.64 886.60 L389.35 886.80 L392.06 887.01 L394.77 887.21 L397.49 887.42 L400.20 887.62 L402.91 887.82 L405.62 888.03 L408.33 888.25 L411.04 888.47 L413.76 888.69 L416.47 888.92 L419.18 889.15 L421.89 889.39 L424.60 889.63 L427.31 889.88 L430.03 890.12 L432.74 890.37 L435.45 890.63 L438.16 890.88 L440.87 891.14 L443.59 891.40 L446.30 891.67 L449.01 891.93 L451.72 892.20 L454.43 892.48 L457.14 892.77 L459.86 893.05 L462.57 893.35 L465.28 893.65 L467.99 893.95 L470.70 894.25 L473.41 894.56 L476.13 894.87 L478.84 895.18 L481.55 895.49 L484.26 895.80 L486.97 896.11 L489.69 896.42 L492.40 896.73 L495.11 897.03 L497.82 897.34 L500.53 897.64 L503.24 897.94 L505.96 898.24 L508.67 898.54 L511.38 898.84 L514.09 899.14 L516.80 899.44 L519.51 899.74 L522.23 900.04 L524.94 900.34 L527.65 900.64 L530.36 900.94 L533.07 901.24 L535.79 901.54 L538.50 901.85 L541.21 902.16 L543.92 902.46 L546.63 902.77 L549.34 903.08 L552.06 903.39 L554.77 903.70 L557.48 904.02 L560.19 904.33 L562.90 904.64 L565.61 904.95 L568.33 905.27 L571.04 905.58 L573.75 905.90 L576.46 906.22 L579.17 906.54 L581.88 906.86 L584.60 907.19 L587.31 907.51 L590.02 907.84 L592.73 908.17 L595.44 908.51 L598.16 908.84 L600.87 909.18 L603.58 909.53 L606.29 909.88 L609.00 910.24 L611.71 910.59 L614.43 910.95 L617.14 911.32 L619.85 911.67 L622.56 912.03 L625.27 912.39 L627.98 912.74 L630.70 913.10 L633.41 913.46 L636.12 913.81 L638.83 914.17 L641.54 914.53 L644.26 914.88 L646.97 915.24 L649.68 915.60 L652.39 915.96 L655.10 916.31 L657.81 916.67 L660.53 917.03 L663.24 917.39 L665.95 917.75 L668.66 918.10 L671.37 918.46 L674.08 918.82 L676.80 919.18 L679.51 919.54 L682.22 919.90 L684.93 920.26 L687.64 920.62 L690.36 920.98 L693.07 921.34 L695.78 921.70 L698.49 922.06 L701.20 922.42 L703.91 922.78 L706.63 923.15 L709.34 923.51 L712.05 923.87 L714.76 924.24 L717.47 924.60 L720.18 924.96 L722.90 925.33 L725.61 925.69 L728.32 926.06 L731.03 926.43 L733.74 926.79 L736.45 927.16 L739.17 927.53 L741.88 927.90 L744.59 928.27 L747.30 928.64 L750.01 929.01 L752.73 929.38 L755.44 929.75 L758.15 930.12 L760.86 930.49 L763.57 930.86 L766.28 931.24 L769.00 931.61 L771.71 931.98 L774.42 932.35 L777.13 932.72 L779.84 933.09 L782.55 933.47 L785.27 933.84 L787.98 934.21 L790.69 934.58 L793.40 934.95 L796.11 935.32 L798.83 935.70 L801.54 936.07 L804.25 936.44 L806.96 936.81 L809.67 937.18 L812.38 937.55 L815.10 937.91 L817.81 938.28 L820.52 938.65" stroke="#00ff00" stroke-width="3.50" stroke-dasharray="10.10 3.15" stroke-dashoffset="12.80" fill="none"/>
<path d="M169.70 895.94 L172.41 895.37 L175.12 894.82 L177.83 894.28 L180.55 893.77 L183.26 893.25 L185.97 892.72 L188.68 892.22 L191.39 891.79 L194.10 891.48 L196.82 891.23 L199.53 891.02 L202.24 890.83 L204.95 890.66 L207.66 890.50 L210.37 890.34 L213.09 890.17 L215.80 889.99 L218.51 889.79 L221.22 889.59 L223.93 889.38 L226.65 889.18 L229.36 888.99 L232.07 888.82 L234.78 888.67 L237.49 888.56 L240.20 888.49 L242.92 888.46 L245.63 888.44 L248.34 888.43 L251.05 888.42 L253.76 888.42 L256.47 888.41 L259.19 888.41 L261.90 888.41 L264.61 888.41 L267.32 888.41 L270.03 888.43 L272.74 888.45 L275.46 888.48 L278.17 888.51 L280.88 888.54 L283.59 888.58 L286.30 888.63 L289.02 888.68 L291.73 888.73 L294.44 888.79 L297.15 888.84 L299.86 888.90 L302.57 888.96 L305.29 889.03 L308.00 889.09 L310.71 889.15 L313.42 889.23 L316.13 889.31 L318.84 889.41 L321.56 889.51 L324.27 889.63 L326.98 889.75 L329.69 889.89 L332.40 890.03 L335.12 890.18 L337.83 890.34 L340.54 890.50 L343.25 890.68 L345.96 890.86 L348.67 891.04 L351.39 891.23 L354.10 891.43 L356.81 891.63 L359.52 891.84 L362.23 892.05 L364.94 892.26 L367.66 892.47 L370.37 892.69 L373.08 892.91 L375.79 893.14 L378.50 893.36 L381.22 893.58 L383.93 893.81 L386.64 894.03 L389.35 894.26 L392.06 894.48 L394.77 894.70 L397.49 894.92 L400.20 895.14 L402.91 895.36 L405.62 895.59 L408.33 895.82 L411.04 896.05 L413.76 896.29 L416.47 896.54 L419.18 896.79 L421.89 897.04 L424.60 897.30 L427.31 897.56 L430.03 897.82 L432.74 898.09 L435.45 898.36 L438.16 898.63 L440.87 898.91 L443.59 899.18 L446.30 899.47 L449.01 899.75 L451.72 900.04 L454.43 900.32 L457.14 900.61 L459.86 900.90 L462.57 901.20 L465.28 901.49 L467.99 901.79 L470.70 902.08 L473.41 902.38 L476.13 902.68 L478.84 902.98 L481.55 903.27 L484.26 903.57 L486.97 903.87 L489.69 904.17 L492.40 904.46 L495.11 904.76 L497.82 905.06 L500.53 905.35 L503.24 905.65 L505.96 905.95 L508.67 906.25 L511.38 906.56 L514.09 906.87 L516.80 907.18 L519.51 907.49 L522.23 907.81 L524.94 908.12 L527.65 908.44 L530.36 908.75 L533.07 909.07 L535.79 909.39 L538.50 909.71 L541.21 910.02 L543.92 910.34 L546.63 910.65 L549.34 910.96 L552.06 911.27 L554.77 911.57 L557.48 911.88 L560.19 912.18 L562.90 912.48 L565.61 912.78 L568.33 913.08 L571.04 913.38 L573.75 913.69 L576.46 913.99 L579.17 914.30 L581.88 914.62 L584.60 914.94 L587.31 915.27 L590.02 915.60 L592.73 915.94 L595.44 916.28 L598.16 916.64 L600.87 917.00 L603.58 917.39 L606.29 917.80 L609.00 918.22 L611.71 918.65 L614.43 919.08 L617.14 919.49 L619.85 919.89 L622.56 920.27 L625.27 920.65 L627.98 921.02 L630.70 921.39 L633.41 921.76 L636.12 922.12 L638.83 922.48 L641.54 922.84 L644.26 923.19 L646.97 923.54 L649.68 923.89 L652.39 924.24 L655.10 924.58 L657.81 924.93 L660.53 925.27 L663.24 925.61 L665.95 925.95 L668.66 926.29 L671.37 926.62 L674.08 926.96 L676.80 927.30 L679.51 927.63 L682.22 927.97 L684.93 928.31 L687.64 928.65 L690.36 928.99 L693.07 929.33 L695.78 929.67 L698.49 930.01 L701.20 930.36 L703.91 930.70 L706.63 931.05 L709.34 931.41 L712.05 931.76 L714.76 932.12 L717.47 932.48 L720.18 932.84 L722.90 933.21 L725.61 933.57 L728.32 933.94 L731.03 934.32 L733.74 934.69 L736.45 935.07 L739.17 935.44 L741.88 935.82 L744.59 936.20 L747.30 936.58 L750.01 936.97 L752.73 937.35 L755.44 937.73 L758.15 938.12 L760.86 938.50 L763.57 938.89 L766.28 939.28 L769.00 939.66 L771.71 940.05 L774.42 940.44 L777.13 940.83 L779.84 941.21 L782.55 941.60 L785.27 941.99 L787.98 942.37 L790.69 942.76 L793.40 943.14 L796.11 943.53 L798.83 943.91 L801.54 944.29 L804.25 944.68 L806.96 945.06 L809.67 945.43 L812.38 945.81 L815.10 946.19 L817.81 946.56 L820.52 946.93" stroke="#0000ff" stroke-width="3.50" stroke-dasharray="10.10 3.15" stroke-dashoffset="12.74" fill="none"/>
<path d="M169.70 896.23 L172.41 896.26 L175.12 896.28 L177.83 896.30 L180.55 896.32 L183.26 896.37 L185.97 896.46 L188.68 896.58 L191.39 896.74 L194.10 896.98 L196.82 897.26 L199.53 897.55 L202.24 897.85 L204.95 898.17 L207.66 898.51 L210.37 898.84 L213.09 899.17 L215.80 899.51 L218.51 899.85 L221.22 900.19 L223.93 900.53 L226.65 900.88 L229.36 901.25 L232.07 901.63 L234.78 902.03 L237.49 902.44 L240.20 902.86 L242.92 903.27 L245.63 903.70 L248.34 904.13 L251.05 904.56 L253.76 905.00 L256.47 905.43 L259.19 905.86 L261.90 906.29 L264.61 906.72 L267.32 907.15 L270.03 907.58 L272.74 908.01 L275.46 908.45 L278.17 908.88 L280.88 909.30 L283.59 909.73 L286.30 910.15 L289.02 910.58 L291.73 911.00 L294.44 911.41 L297.15 911.83 L299.86 912.25 L302.57 912.66 L305.29 913.07 L308.00 913.49 L310.71 913.90 L313.42 914.31 L316.13 914.73 L318.84 915.14 L321.56 915.55 L324.27 915.97 L326.98 916.38 L329.69 916.80 L332.40 917.21 L335.12 917.63 L337.83 918.04 L340.54 918.45 L343.25 918.87 L345.96 919.28 L348.67 919.69 L351.39 920.11 L354.10 920.52 L356.81 920.93 L359.52 921.35 L362.23 921.76 L364.94 922.17 L367.66 922.58 L370.37 923.00 L373.08 923.41 L375.79 923.82 L378.50 924.24 L381.22 924.65 L383.93 925.06 L386.64 925.47 L389.35 925.89 L392.06 926.30 L394.77 926.71 L397.49 927.12 L400.20 927.54 L402.91 927.95 L405.62 928.36 L408.33 928.78 L411.04 929.19 L413.76 929.60 L416.47 930.02 L419.18 930.43 L421.89 930.84 L424.60 931.26 L427.31 931.67 L430.03 932.09 L432.74 932.50 L435.45 932.91 L438.16 933.33 L440.87 933.74 L443.59 934.16 L446.30 934.57 L449.01 934.99 L451.72 935.40 L454.43 935.82 L457.14 936.24 L459.86 936.65 L462.57 937.07 L465.28 937.49 L467.99 937.90 L470.70 938.32 L473.41 938.74 L476.13 939.16 L478.84 939.57 L481.55 939.99 L484.26 940.41 L486.97 940.83 L489.69 941.25 L492.40 941.67 L495.11 942.09 L497.82 942.51 L500.53 942.93 L503.24 943.35 L505.96 943.77 L508.67 944.19 L511.38 944.61 L514.09 945.03 L516.80 945.45 L519.51 945.88 L522.23 946.30 L524.94 946.72 L527.65 947.14 L530.36 947.57 L533.07 947.99 L535.79 948.41 L538.50 948.83 L541.21 949.26 L543.92 949.68 L546.63 950.10 L549.34 950.53 L552.06 950.95 L554.77 951.37 L557.48 951.80 L560.19 952.22 L562.90 952.64 L565.61 953.07 L568.33 953.49 L571.04 953.92 L573.75 954.34 L576.46 954.77 L579.17 955.19 L581.88 955.61 L584.60 956.04 L587.31 956.46 L590.02 956.89 L592.73 957.31 L595.44 957.74 L598.16 958.16 L600.87 958.59 L603.58 959.01 L606.29 959.44 L609.00 959.86 L611.71 960.29 L614.43 960.71 L617.14 961.14 L619.85 961.56 L622.56 961.99 L625.27 962.41 L627.98 962.83 L630.70 963.26 L633.41 963.68 L636.12 964.11 L638.83 964.53 L641.54 964.96 L644.26 965.38 L646.97 965.81 L649.68 966.23 L652.39 966.65 L655.10 967.08 L657.81 967.50 L660.53 967.93 L663.24 968.35 L665.95 968.77 L668.66 969.20 L671.37 969.62 L674.08 970.04 L676.80 970.47 L679.51 970.89 L682.22 971.31 L684.93 971.73 L687.64 972.16 L690.36 972.58 L693.07 973.01 L695.78 973.43 L698.49 973.85 L701.20 974.28 L703.91 974.70 L706.63 975.12 L709.34 975.55 L712.05 975.97 L714.76 976.39 L717.47 976.82 L720.18 977.24 L722.90 977.67 L725.61 978.09 L728.32 978.51 L731.03 978.94 L733.74 979.36 L736.45 979.79 L739.17 980.21 L741.88 980.63 L744.59 981.06 L747.30 981.48 L750.01 981.90 L752.73 982.33 L755.44 982.75 L758.15 983.17 L760.86 983.60 L763.57 984.02 L766.28 984.44 L769.00 984.87 L771.71 985.29 L774.42 985.71 L777.13 986.13 L779.84 986.56 L782.55 986.98 L785.27 987.40 L787.98 987.82 L790.69 988.25 L793.40 988.67 L796.11 989.09 L798.83 989.51 L801.54 989.93 L804.25 990.35 L806.96 990.77 L809.67 991.19 L812.38 991.61 L815.10 992.03 L817.81 992.45 L820.52 992.87" stroke="#ff0000" stroke-width="3.50" stroke-dasharray="10.10 3.15" stroke-dashoffset="0.14" fill="none"/>
<path d="M169.30 894.00 L167.78 894.35 L166.54 894.70 L165.76 895.06 L165.12 895.41 L164.59 895.76 L164.14 896.11 L163.74 896.46 L163.38 896.82 L163.03 897.17 L162.70 897.52 L162.38 897.87 L162.07 898.22 L161.78 898.57 L161.50 898.93 L161.24 899.28 L160.99 899.63 L160.76 899.98 L160.56 900.33 L160.37 900.69 L160.20 901.04 L160.05 901.39 L159.92 901.74 L159.81 902.09 L159.70 902.45 L159.60 902.80 L159.50 903.15 L159.41 903.50 L159.33 903.85 L159.24 904.21 L159.17 904.56 L159.09 904.91 L159.02 905.26 L158.95 905.61 L158.88 905.96 L158.82 906.32 L158.76 906.67 L158.70 907.02 L158.65 907.37 L158.59 907.72 L158.54 908.08 L158.49 908.43 L158.43 908.78 L158.38 909.13 L158.33 909.48 L158.28 909.84 L158.23 910.19 L158.18 910.54 L158.13 910.89 L158.08 911.24 L158.03 911.59 L157.97 911.95 L157.92 912.30 L157.87 912.65 L157.82 913.00 L157.77 913.35 L157.72 913.71 L157.67 914.06 L157.62 914.41 L157.57 914.76 L157.52 915.11 L157.48 915.47 L157.43 915.82 L157.39 916.17 L157.35 916.52 L157.31 916.87 L157.28 917.23 L157.24 917.58 L157.21 917.93 L157.18 918.28 L157.15 918.63 L157.13 918.98 L157.10 919.34 L157.08 919.69 L157.07 920.04 L157.05 920.39 L157.03 920.74 L157.02 921.10 L157.00 921.45 L156.99 921.80 L156.97 922.30 L156.91 924.09 L156.85 925.87 L156.79 927.66 L156.71 929.44 L156.63 931.23 L156.56 933.02 L156.51 934.80 L156.50 936.59 L156.49 938.37 L156.48 940.16 L156.47 941.95 L156.47 943.73 L156.46 945.52 L156.46 947.31 L156.45 949.09 L156.45 950.88 L156.45 952.66 L156.44 954.45 L156.44 956.24 L156.44 958.02 L156.43 959.81 L156.43 961.59 L156.43 963.38 L156.43 965.17 L156.42 966.95 L156.42 968.74 L156.42 970.52 L156.42 972.31 L156.42 974.10 L156.41 975.88 L156.41 977.67 L156.41 979.45 L156.41 981.24 L156.40 983.03 L156.40 984.81 L156.40 986.60 L156.39 988.38 L156.39 990.17 L156.39 991.96 L156.38 993.74 L156.38 995.53 L156.37 997.32 L156.37 999.10 L156.36 1000.89 L156.36 1002.67 L156.35 1004.46 L156.35 1006.25 L156.34 1008.03 L156.34 1009.82 L156.33 1011.60 L156.33 1013.39 L156.33 1015.18 L156.32 1016.96 L156.32 1018.75 L156.32 1020.53 L156.31 1022.32 L156.31 1024.11 L156.31 1025.89 L156.30 1027.68 L156.30 1029.46 L156.30 1031.25 L156.30 1033.04 L156.30 1034.82 L156.30 1036.61 L156.30 1038.39 L156.30 1040.18 L156.30 1041.97 L156.30 1043.75 L156.30 1045.54 L156.30 1047.33 L156.30 1049.11 L156.30 1050.90 L156.30 1052.68 L156.30 1054.47 L156.30 1056.26 L156.30 1058.04 L156.30 1059.83 L156.30 1061.61 L156.30 1063.40" stroke="#808080" stroke-width="3.30" stroke-dasharray="4.80 3.55" stroke-dashoffset="5.78" fill="none"/>
<path d="M172.00 895.70 L170.31 896.03 L169.38 896.36 L168.57 896.69 L167.88 897.02 L167.29 897.35 L166.77 897.68 L166.32 898.01 L165.91 898.34 L165.54 898.67 L165.19 899.00 L164.86 899.33 L164.54 899.66 L164.24 899.99 L163.96 900.33 L163.69 900.66 L163.43 900.99 L163.20 901.32 L162.97 901.65 L162.75 901.98 L162.55 902.31 L162.36 902.64 L162.17 902.97 L162.00 903.30 L161.83 903.63 L161.67 903.96 L161.52 904.29 L161.36 904.62 L161.22 904.95 L161.07 905.28 L160.94 905.61 L160.80 905.94 L160.68 906.27 L160.55 906.60 L160.44 906.93 L160.33 907.26 L160.23 907.59 L160.13 907.92 L160.05 908.25 L159.97 908.58 L159.90 908.92 L159.83 909.25 L159.77 909.58 L159.71 909.91 L159.65 910.24 L159.59 910.57 L159.54 910.90 L159.49 911.23 L159.44 911.56 L159.39 911.89 L159.34 912.22 L159.30 912.55 L159.26 912.88 L159.21 913.21 L159.17 913.54 L159.14 913.87 L159.10 914.20 L159.06 914.53 L159.03 914.86 L159.00 915.19 L158.96 915.52 L158.93 915.85 L158.90 916.18 L158.87 916.51 L158.84 916.84 L158.81 917.17 L158.79 917.51 L158.76 917.84 L158.73 918.17 L158.71 918.50 L158.68 918.83 L158.66 919.16 L158.64 919.49 L158.61 919.82 L158.59 920.15 L158.57 920.48 L158.55 920.81 L158.53 921.14 L158.51 921.47 L158.49 921.80 L158.46 922.30 L158.42 923.03 L158.38 923.76 L158.34 924.48 L158.31 925.21 L158.28 925.94 L158.24 926.67 L158.21 927.39 L158.18 928.12 L158.16 928.85 L158.13 929.58 L158.11 930.31 L158.09 931.03 L158.07 931.76 L158.05 932.49 L158.04 933.22 L158.02 933.95 L158.01 934.67 L157.99 935.40 L157.98 936.13 L157.97 936.86 L157.95 937.58 L157.94 938.31 L157.92 939.04 L157.91 939.77 L157.89 940.50 L157.87 941.22 L157.85 941.95 L157.83 942.68 L157.81 943.41 L157.80 944.14 L157.78 944.86 L157.76 945.59 L157.74 946.32 L157.72 947.05 L157.69 947.77 L157.67 948.50 L157.65 949.23 L157.63 949.96 L157.61 950.69 L157.59 951.41 L157.57 952.14 L157.55 952.87 L157.53 953.60 L157.51 954.33 L157.48 955.05 L157.46 955.78 L157.44 956.51 L157.42 957.24 L157.40 957.96 L157.38 958.69 L157.36 959.42 L157.34 960.15 L157.32 960.88 L157.30 961.60 L157.29 962.33 L157.27 963.06 L157.25 963.79 L157.23 964.52 L157.21 965.24 L157.19 965.97 L157.17 966.70 L157.15 967.43 L157.13 968.15 L157.11 968.88 L157.09 969.61 L157.07 970.34 L157.05 971.07 L157.03 971.79 L157.01 972.52 L156.99 973.25 L156.97 973.98 L156.95 974.71 L156.93 975.43 L156.91 976.16 L156.89 976.89 L156.88 977.62 L156.86 978.34 L156.84 979.07 L156.82 979.80" stroke="#808080" stroke-width="3.50" stroke-dasharray="6.60 1.75" stroke-dashoffset="2.57" fill="none"/>
<path d="M172.00 895.70 L170.31 896.03 L169.38 896.36 L168.57 896.69 L167.88 897.02 L167.29 897.35 L166.77 897.68 L166.32 898.01 L165.91 898.34 L165.54 898.67 L165.19 899.00 L164.86 899.33 L164.54 899.66 L164.24 899.99 L163.98 900.30" stroke="#808080" stroke-width="3.5" fill="none"/>
<path d="M141.50 891.80 H820.50" stroke="#000" stroke-opacity="0.31" stroke-width="1.8" fill="none"/>
</g>
<path d="M154.44 40.50 v6.40 M154.44 380.40 v-6.40 M187.04 40.50 v3.80 M187.04 380.40 v-3.80 M219.65 40.50 v3.80 M219.65 380.40 v-3.80 M252.25 40.50 v3.80 M252.25 380.40 v-3.80 M284.85 40.50 v6.40 M284.85 380.40 v-6.40 M317.46 40.50 v3.80 M317.46 380.40 v-3.80 M350.06 40.50 v3.80 M350.06 380.40 v-3.80 M382.66 40.50 v3.80 M382.66 380.40 v-3.80 M415.26 40.50 v6.40 M415.26 380.40 v-6.40 M447.87 40.50 v3.80 M447.87 380.40 v-3.80 M480.47 40.50 v3.80 M480.47 380.40 v-3.80 M513.07 40.50 v3.80 M513.07 380.40 v-3.80 M545.68 40.50 v6.40 M545.68 380.40 v-6.40 M578.28 40.50 v3.80 M578.28 380.40 v-3.80 M610.88 40.50 v3.80 M610.88 380.40 v-3.80 M643.49 40.50 v3.80 M643.49 380.40 v-3.80 M676.09 40.50 v6.40 M676.09 380.40 v-6.40 M708.69 40.50 v3.80 M708.69 380.40 v-3.80 M741.29 40.50 v3.80 M741.29 380.40 v-3.80 M773.90 40.50 v3.80 M773.90 380.40 v-3.80 M806.50 40.50 v6.40 M806.50 380.40 v-6.40 M141.50 372.94 h3.50 M820.50 372.94 h-3.50 M141.50 359.36 h3.50 M820.50 359.36 h-3.50 M141.50 345.78 h3.50 M820.50 345.78 h-3.50 M141.50 332.20 h6.20 M820.50 332.20 h-6.20 M141.50 318.62 h3.50 M820.50 318.62 h-3.50 M141.50 305.04 h3.50 M820.50 305.04 h-3.50 M141.50 291.46 h3.50 M820.50 291.46 h-3.50 M141.50 277.88 h3.50 M820.50 277.88 h-3.50 M141.50 264.30 h6.20 M820.50 264.30 h-6.20 M141.50 250.72 h3.50 M820.50 250.72 h-3.50 M141.50 237.14 h3.50 M820.50 237.14 h-3.50 M141.50 223.56 h3.50 M820.50 223.56 h-3.50 M141.50 209.98 h3.50 M820.50 209.98 h-3.50 M141.50 196.40 h6.20 M820.50 196.40 h-6.20 M141.50 182.82 h3.50 M820.50 182.82 h-3.50 M141.50 169.24 h3.50 M820.50 169.24 h-3.50 M141.50 155.66 h3.50 M820.50 155.66 h-3.50 M141.50 142.08 h3.50 M820.50 142.08 h-3.50 M141.50 128.50 h6.20 M820.50 128.50 h-6.20 M141.50 114.92 h3.50 M820.50 114.92 h-3.50 M141.50 101.34 h3.50 M820.50 101.34 h-3.50 M141.50 87.76 h3.50 M820.50 87.76 h-3.50 M141.50 74.18 h3.50 M820.50 74.18 h-3.50 M141.50 60.60 h6.20 M820.50 60.60 h-6.20 M141.50 47.02 h3.50 M820.50 47.02 h-3.50" stroke="#6a6a6a" stroke-width="1" fill="none"/>
<rect x="141.50" y="40.50" width="679.00" height="339.90" stroke="#6a6a6a" stroke-width="1.1" fill="none"/>
<path d="M154.44 380.40 v6.40 M154.44 720.30 v-6.40 M187.04 380.40 v3.80 M187.04 720.30 v-3.80 M219.65 380.40 v3.80 M219.65 720.30 v-3.80 M252.25 380.40 v3.80 M252.25 720.30 v-3.80 M284.85 380.40 v6.40 M284.85 720.30 v-6.40 M317.46 380.40 v3.80 M317.46 720.30 v-3.80 M350.06 380.40 v3.80 M350.06 720.30 v-3.80 M382.66 380.40 v3.80 M382.66 720.30 v-3.80 M415.26 380.40 v6.40 M415.26 720.30 v-6.40 M447.87 380.40 v3.80 M447.87 720.30 v-3.80 M480.47 380.40 v3.80 M480.47 720.30 v-3.80 M513.07 380.40 v3.80 M513.07 720.30 v-3.80 M545.68 380.40 v6.40 M545.68 720.30 v-6.40 M578.28 380.40 v3.80 M578.28 720.30 v-3.80 M610.88 380.40 v3.80 M610.88 720.30 v-3.80 M643.49 380.40 v3.80 M643.49 720.30 v-3.80 M676.09 380.40 v6.40 M676.09 720.30 v-6.40 M708.69 380.40 v3.80 M708.69 720.30 v-3.80 M741.29 380.40 v3.80 M741.29 720.30 v-3.80 M773.90 380.40 v3.80 M773.90 720.30 v-3.80 M806.50 380.40 v6.40 M806.50 720.30 v-6.40 M141.50 713.44 h3.50 M820.50 713.44 h-3.50 M141.50 699.86 h3.50 M820.50 699.86 h-3.50 M141.50 686.28 h3.50 M820.50 686.28 h-3.50 M141.50 672.70 h6.20 M820.50 672.70 h-6.20 M141.50 659.12 h3.50 M820.50 659.12 h-3.50 M141.50 645.54 h3.50 M820.50 645.54 h-3.50 M141.50 631.96 h3.50 M820.50 631.96 h-3.50 M141.50 618.38 h3.50 M820.50 618.38 h-3.50 M141.50 604.80 h6.20 M820.50 604.80 h-6.20 M141.50 591.22 h3.50 M820.50 591.22 h-3.50 M141.50 577.64 h3.50 M820.50 577.64 h-3.50 M141.50 564.06 h3.50 M820.50 564.06 h-3.50 M141.50 550.48 h3.50 M820.50 550.48 h-3.50 M141.50 536.90 h6.20 M820.50 536.90 h-6.20 M141.50 523.32 h3.50 M820.50 523.32 h-3.50 M141.50 509.74 h3.50 M820.50 509.74 h-3.50 M141.50 496.16 h3.50 M820.50 496.16 h-3.50 M141.50 482.58 h3.50 M820.50 482.58 h-3.50 M141.50 469.00 h6.20 M820.50 469.00 h-6.20 M141.50 455.42 h3.50 M820.50 455.42 h-3.50 M141.50 441.84 h3.50 M820.50 441.84 h-3.50 M141.50 428.26 h3.50 M820.50 428.26 h-3.50 M141.50 414.68 h3.50 M820.50 414.68 h-3.50 M141.50 401.10 h6.20 M820.50 401.10 h-6.20 M141.50 387.52 h3.50 M820.50 387.52 h-3.50" stroke="#6a6a6a" stroke-width="1" fill="none"/>
<rect x="141.50" y="380.40" width="679.00" height="339.90" stroke="#6a6a6a" stroke-width="1.1" fill="none"/>
<rect x="141.00" y="719.00" width="680.00" height="3.2" fill="#fff"/>
<rect x="142.00" y="719.3" width="678.00" height="1.2" fill="#f2f2f2"/>
<rect x="142.00" y="720.5" width="678.00" height="1.3" fill="#dcdcdc"/>
<path d="M154.44 722.30 v6.40 M154.44 1061.40 v-6.40 M187.04 722.30 v3.80 M187.04 1061.40 v-3.80 M219.65 722.30 v3.80 M219.65 1061.40 v-3.80 M252.25 722.30 v3.80 M252.25 1061.40 v-3.80 M284.85 722.30 v6.40 M284.85 1061.40 v-6.40 M317.46 722.30 v3.80 M317.46 1061.40 v-3.80 M350.06 722.30 v3.80 M350.06 1061.40 v-3.80 M382.66 722.30 v3.80 M382.66 1061.40 v-3.80 M415.26 722.30 v6.40 M415.26 1061.40 v-6.40 M447.87 722.30 v3.80 M447.87 1061.40 v-3.80 M480.47 722.30 v3.80 M480.47 1061.40 v-3.80 M513.07 722.30 v3.80 M513.07 1061.40 v-3.80 M545.68 722.30 v6.40 M545.68 1061.40 v-6.40 M578.28 722.30 v3.80 M578.28 1061.40 v-3.80 M610.88 722.30 v3.80 M610.88 1061.40 v-3.80 M643.49 722.30 v3.80 M643.49 1061.40 v-3.80 M676.09 722.30 v6.40 M676.09 1061.40 v-6.40 M708.69 722.30 v3.80 M708.69 1061.40 v-3.80 M741.29 722.30 v3.80 M741.29 1061.40 v-3.80 M773.90 722.30 v3.80 M773.90 1061.40 v-3.80 M806.50 722.30 v6.40 M806.50 1061.40 v-6.40 M141.50 1054.76 h3.50 M820.50 1054.76 h-3.50 M141.50 1041.18 h3.50 M820.50 1041.18 h-3.50 M141.50 1027.60 h6.20 M820.50 1027.60 h-6.20 M141.50 1014.02 h3.50 M820.50 1014.02 h-3.50 M141.50 1000.44 h3.50 M820.50 1000.44 h-3.50 M141.50 986.86 h3.50 M820.50 986.86 h-3.50 M141.50 973.28 h3.50 M820.50 973.28 h-3.50 M141.50 959.70 h6.20 M820.50 959.70 h-6.20 M141.50 946.12 h3.50 M820.50 946.12 h-3.50 M141.50 932.54 h3.50 M820.50 932.54 h-3.50 M141.50 918.96 h3.50 M820.50 918.96 h-3.50 M141.50 905.38 h3.50 M820.50 905.38 h-3.50 M141.50 891.80 h6.20 M820.50 891.80 h-6.20 M141.50 878.22 h3.50 M820.50 878.22 h-3.50 M141.50 864.64 h3.50 M820.50 864.64 h-3.50 M141.50 851.06 h3.50 M820.50 851.06 h-3.50 M141.50 837.48 h3.50 M820.50 837.48 h-3.50 M141.50 823.90 h6.20 M820.50 823.90 h-6.20 M141.50 810.32 h3.50 M820.50 810.32 h-3.50 M141.50 796.74 h3.50 M820.50 796.74 h-3.50 M141.50 783.16 h3.50 M820.50 783.16 h-3.50 M141.50 769.58 h3.50 M820.50 769.58 h-3.50 M141.50 756.00 h6.20 M820.50 756.00 h-6.20 M141.50 742.42 h3.50 M820.50 742.42 h-3.50 M141.50 728.84 h3.50 M820.50 728.84 h-3.50" stroke="#6a6a6a" stroke-width="1" fill="none"/>
<rect x="141.50" y="722.30" width="679.00" height="339.10" stroke="#6a6a6a" stroke-width="1.1" fill="none"/>
<g font-family="'Liberation Serif', serif" fill="#000">
<text x="135.90" y="69.00" font-size="24.80" text-anchor="end" ><tspan dy="0.00" dx="0.00" font-size="24.80">0.0010</tspan></text>
<text x="135.90" y="136.90" font-size="24.80" text-anchor="end" ><tspan dy="0.00" dx="0.00" font-size="24.80">0.0005</tspan></text>
<text x="135.90" y="204.80" font-size="24.80" text-anchor="end" ><tspan dy="0.00" dx="0.00" font-size="24.80">0.0000</tspan></text>
<text x="135.90" y="272.70" font-size="24.80" text-anchor="end" ><tspan dy="0.00" dx="0.00" font-size="24.80">−</tspan><tspan dy="0.00" dx="3.20" font-size="24.80">0.0005</tspan></text>
<text x="135.90" y="340.60" font-size="24.80" text-anchor="end" ><tspan dy="0.00" dx="0.00" font-size="24.80">−</tspan><tspan dy="0.00" dx="3.20" font-size="24.80">0.0010</tspan></text>
<g transform="translate(31,210.45) rotate(-90)"><text x="-14" y="0" font-size="24.6">Δ<tspan dy="5.4" font-size="18" font-style="italic">R</tspan></text></g>
<text x="135.90" y="409.50" font-size="24.80" text-anchor="end" ><tspan dy="0.00" dx="0.00" font-size="24.80">0.0010</tspan></text>
<text x="135.90" y="477.40" font-size="24.80" text-anchor="end" ><tspan dy="0.00" dx="0.00" font-size="24.80">0.0005</tspan></text>
<text x="135.90" y="545.30" font-size="24.80" text-anchor="end" ><tspan dy="0.00" dx="0.00" font-size="24.80">0.0000</tspan></text>
<text x="135.90" y="613.20" font-size="24.80" text-anchor="end" ><tspan dy="0.00" dx="0.00" font-size="24.80">−</tspan><tspan dy="0.00" dx="3.20" font-size="24.80">0.0005</tspan></text>
<text x="135.90" y="681.10" font-size="24.80" text-anchor="end" ><tspan dy="0.00" dx="0.00" font-size="24.80">−</tspan><tspan dy="0.00" dx="3.20" font-size="24.80">0.0010</tspan></text>
<g transform="translate(31,550.35) rotate(-90)"><text x="-14" y="0" font-size="24.6">Δ<tspan dy="5.4" font-size="18" font-style="italic">R</tspan></text></g>
<text x="135.90" y="764.40" font-size="24.80" text-anchor="end" ><tspan dy="0.00" dx="0.00" font-size="24.80">0.0010</tspan></text>
<text x="135.90" y="832.30" font-size="24.80" text-anchor="end" ><tspan dy="0.00" dx="0.00" font-size="24.80">0.0005</tspan></text>
<text x="135.90" y="900.20" font-size="24.80" text-anchor="end" ><tspan dy="0.00" dx="0.00" font-size="24.80">0.0000</tspan></text>
<text x="135.90" y="968.10" font-size="24.80" text-anchor="end" ><tspan dy="0.00" dx="0.00" font-size="24.80">−</tspan><tspan dy="0.00" dx="3.20" font-size="24.80">0.0005</tspan></text>
<text x="135.90" y="1036.00" font-size="24.80" text-anchor="end" ><tspan dy="0.00" dx="0.00" font-size="24.80">−</tspan><tspan dy="0.00" dx="3.20" font-size="24.80">0.0010</tspan></text>
<g transform="translate(31,891.85) rotate(-90)"><text x="-14" y="0" font-size="24.6">Δ<tspan dy="5.4" font-size="18" font-style="italic">R</tspan></text></g>
<text x="154.44" y="1089.50" font-size="24.80" text-anchor="middle" ><tspan dy="0.00" dx="0.00" font-size="24.80">0.00</tspan></text>
<text x="284.85" y="1089.50" font-size="24.80" text-anchor="middle" ><tspan dy="0.00" dx="0.00" font-size="24.80">0.02</tspan></text>
<text x="415.26" y="1089.50" font-size="24.80" text-anchor="middle" ><tspan dy="0.00" dx="0.00" font-size="24.80">0.04</tspan></text>
<text x="545.68" y="1089.50" font-size="24.80" text-anchor="middle" ><tspan dy="0.00" dx="0.00" font-size="24.80">0.06</tspan></text>
<text x="676.09" y="1089.50" font-size="24.80" text-anchor="middle" ><tspan dy="0.00" dx="0.00" font-size="24.80">0.08</tspan></text>
<text x="806.50" y="1089.50" font-size="24.80" text-anchor="middle" ><tspan dy="0.00" dx="0.00" font-size="24.80">0.10</tspan></text>
<text x="370.60" y="28.30" font-size="25.00" text-anchor="start" font-style="italic" ><tspan dy="0.00" dx="0.00" font-size="25.00">m</tspan><tspan dy="5.50" dx="0.00" font-size="18.50">R</tspan><tspan dy="-15.50" dx="1.00" font-size="18.50">2</tspan><tspan dy="13.00" dx="2.00" font-size="25.00"> =</tspan><tspan dy="-3.00" dx="0.00" font-size="25.00"> 10</tspan><tspan dy="-10.00" dx="0.00" font-size="18.50">−3</tspan><tspan dy="10.00" dx="0.00" font-size="25.00">M</tspan><tspan dy="5.50" dx="1.00" font-size="18.50">pl</tspan><tspan dy="-15.50" dx="1.00" font-size="18.50">2</tspan></text>
<text x="428.90" y="1132.40" font-size="25.00" text-anchor="start" font-style="italic" ><tspan dy="0.00" dx="0.00" font-size="25.00" font-style="normal">Λ</tspan><tspan dy="5.50" dx="-1.30" font-size="18.50">R</tspan><tspan dy="-5.50" dx="0.40" font-size="25.00" font-style="normal"> [</tspan><tspan dy="0.00" dx="-0.60" font-size="25.00">M</tspan><tspan dy="5.50" dx="1.20" font-size="18.50">pl</tspan><tspan dy="-15.50" dx="2.40" font-size="18.50">2</tspan><tspan dy="10.00" dx="0.20" font-size="25.00" font-style="normal">]</tspan></text>
<text x="426.30" y="76.50" font-size="25.00" text-anchor="start" font-style="italic" ><tspan dy="0.00" dx="0.00" font-size="25.00">ξ</tspan><tspan dy="5.50" dx="0.00" font-size="18.50">R</tspan><tspan dy="-2.50" dx="0.70" font-size="25.00">=</tspan><tspan dy="-3.00" dx="1.60" font-size="25.00">0</tspan></text>
<text x="512.50" y="76.50" font-size="25.00" text-anchor="start" font-style="italic" ><tspan dy="0.00" dx="0.00" font-size="25.00" font-style="normal">λ</tspan><tspan dy="5.50" dx="0.00" font-size="18.50">R</tspan><tspan dy="-2.50" dx="-0.80" font-size="25.00"> =</tspan><tspan dy="-3.00" dx="1.60" font-size="25.00"> 0.1</tspan></text>
<text x="486.30" y="416.50" font-size="25.00" text-anchor="start" font-style="italic" ><tspan dy="0.00" dx="0.00" font-size="25.00">ξ</tspan><tspan dy="5.50" dx="0.00" font-size="18.50">R</tspan><tspan dy="-2.50" dx="0.70" font-size="25.00">=</tspan><tspan dy="-3.00" dx="1.60" font-size="25.00">0</tspan></text>
<text x="502.00" y="770.00" font-size="25.00" text-anchor="start" font-style="italic" ><tspan dy="0.00" dx="0.00" font-size="25.00" font-style="normal">λ</tspan><tspan dy="5.50" dx="0.00" font-size="18.50">R</tspan><tspan dy="-2.50" dx="0.00" font-size="25.00"> =</tspan><tspan dy="-3.00" dx="0.00" font-size="25.00"> 0.1</tspan></text>
<path d="M189.50 273.80 H256.00" stroke="#00ff00" stroke-width="3.1" fill="none"/>
<path d="M189.50 313.70 H256.00" stroke="#0000ff" stroke-width="3.1" fill="none"/>
<path d="M189.50 354.80 H256.00" stroke="#ff0000" stroke-width="3.1" fill="none"/>
<text x="268.20" y="274.70" font-size="25.00" text-anchor="start" font-style="italic" ><tspan dy="0.00" dx="0.00" font-size="25.00">R</tspan><tspan dy="5.50" dx="0.00" font-size="18.50">0</tspan><tspan dy="-2.50" dx="0.00" font-size="25.00"> =</tspan><tspan dy="-3.00" dx="0.00" font-size="25.00"> 0</tspan></text>
<text x="268.20" y="314.60" font-size="25.00" text-anchor="start" font-style="italic" ><tspan dy="0.00" dx="0.00" font-size="25.00">R</tspan><tspan dy="5.50" dx="0.00" font-size="18.50">0</tspan><tspan dy="-2.50" dx="0.00" font-size="25.00">=</tspan><tspan dy="-3.00" dx="0.00" font-size="25.00">10</tspan><tspan dy="-10.00" dx="0.00" font-size="18.50">−2</tspan><tspan dy="10.00" dx="0.00" font-size="25.00">M</tspan><tspan dy="5.50" dx="1.00" font-size="18.50">pl</tspan><tspan dy="-15.50" dx="1.00" font-size="18.50">2</tspan></text>
<text x="268.20" y="355.70" font-size="25.00" text-anchor="start" font-style="italic" ><tspan dy="0.00" dx="0.00" font-size="25.00">R</tspan><tspan dy="5.50" dx="0.00" font-size="18.50">0</tspan><tspan dy="-2.50" dx="0.00" font-size="25.00"> =</tspan><tspan dy="-3.00" dx="0.00" font-size="25.00"> 4</tspan><tspan dy="0.00" dx="0.00" font-size="25.00" font-style="normal">Λ</tspan><tspan dy="5.50" dx="0.50" font-size="18.50">R</tspan></text>
<path d="M189.50 614.30 H256.00" stroke="#00ff00" stroke-width="3.1" fill="none"/>
<path d="M189.50 654.20 H256.00" stroke="#0000ff" stroke-width="3.1" fill="none"/>
<path d="M189.50 695.30 H256.00" stroke="#ff0000" stroke-width="3.1" fill="none"/>
<text x="268.20" y="615.20" font-size="25.00" text-anchor="start" font-style="italic" ><tspan dy="0.00" dx="0.00" font-size="25.00">R</tspan><tspan dy="5.50" dx="0.00" font-size="18.50">0</tspan><tspan dy="-2.50" dx="0.00" font-size="25.00"> =</tspan><tspan dy="-3.00" dx="0.00" font-size="25.00"> 0</tspan></text>
<text x="268.20" y="655.10" font-size="25.00" text-anchor="start" font-style="italic" ><tspan dy="0.00" dx="0.00" font-size="25.00">R</tspan><tspan dy="5.50" dx="0.00" font-size="18.50">0</tspan><tspan dy="-2.50" dx="0.00" font-size="25.00">=</tspan><tspan dy="-3.00" dx="0.00" font-size="25.00">10</tspan><tspan dy="-10.00" dx="0.00" font-size="18.50">−2</tspan><tspan dy="10.00" dx="0.00" font-size="25.00">M</tspan><tspan dy="5.50" dx="1.00" font-size="18.50">pl</tspan><tspan dy="-15.50" dx="1.00" font-size="18.50">2</tspan></text>
<text x="268.20" y="696.20" font-size="25.00" text-anchor="start" font-style="italic" ><tspan dy="0.00" dx="0.00" font-size="25.00">R</tspan><tspan dy="5.50" dx="0.00" font-size="18.50">0</tspan><tspan dy="-2.50" dx="0.00" font-size="25.00"> =</tspan><tspan dy="-3.00" dx="0.00" font-size="25.00"> 4</tspan><tspan dy="0.00" dx="0.00" font-size="25.00" font-style="normal">Λ</tspan><tspan dy="5.50" dx="0.50" font-size="18.50">R</tspan></text>
<path d="M177.50 955.50 H244.00" stroke="#00ff00" stroke-width="3.1" fill="none"/>
<path d="M177.50 995.50 H244.00" stroke="#0000ff" stroke-width="3.1" fill="none"/>
<path d="M177.50 1036.50 H244.00" stroke="#ff0000" stroke-width="3.1" fill="none"/>
<text x="256.20" y="956.40" font-size="25.00" text-anchor="start" font-style="italic" ><tspan dy="0.00" dx="0.00" font-size="25.00">R</tspan><tspan dy="5.50" dx="0.00" font-size="18.50">0</tspan><tspan dy="-2.50" dx="0.00" font-size="25.00"> =</tspan><tspan dy="-3.00" dx="0.00" font-size="25.00"> 0</tspan></text>
<text x="256.20" y="996.40" font-size="25.00" text-anchor="start" font-style="italic" ><tspan dy="0.00" dx="0.00" font-size="25.00">R</tspan><tspan dy="5.50" dx="0.00" font-size="18.50">0</tspan><tspan dy="-2.50" dx="0.00" font-size="25.00">=</tspan><tspan dy="-3.00" dx="0.00" font-size="25.00">10</tspan><tspan dy="-10.00" dx="0.00" font-size="18.50">−2</tspan><tspan dy="10.00" dx="0.00" font-size="25.00">M</tspan><tspan dy="5.50" dx="1.00" font-size="18.50">pl</tspan><tspan dy="-15.50" dx="1.00" font-size="18.50">2</tspan></text>
<text x="256.20" y="1037.40" font-size="25.00" text-anchor="start" font-style="italic" ><tspan dy="0.00" dx="0.00" font-size="25.00">R</tspan><tspan dy="5.50" dx="0.00" font-size="18.50">0</tspan><tspan dy="-2.50" dx="0.00" font-size="25.00"> =</tspan><tspan dy="-3.00" dx="0.00" font-size="25.00"> 4</tspan><tspan dy="0.00" dx="0.00" font-size="25.00" font-style="normal">Λ</tspan><tspan dy="5.50" dx="0.50" font-size="18.50">R</tspan></text>
<path d="M182.5 408.1 H245.5" stroke="#000" stroke-width="3.5" stroke-dasharray="10.4 3.6" fill="none"/>
<path d="M182.5 443.9 H249" stroke="#000" stroke-width="3.5" fill="none"/>
<text x="260.00" y="411.00" font-size="25.00" text-anchor="start" font-style="italic" ><tspan dy="0.00" dx="0.00" font-size="25.00" font-style="normal">λ</tspan><tspan dy="5.50" dx="0.00" font-size="18.50">R</tspan><tspan dy="-2.50" dx="0.00" font-size="25.00"> =</tspan><tspan dy="-3.00" dx="0.00" font-size="25.00"> 1</tspan></text>
<text x="260.00" y="447.00" font-size="25.00" text-anchor="start" font-style="italic" ><tspan dy="0.00" dx="0.00" font-size="25.00" font-style="normal">λ</tspan><tspan dy="5.50" dx="0.00" font-size="18.50">R</tspan><tspan dy="-2.50" dx="0.00" font-size="25.00"> =</tspan><tspan dy="-3.00" dx="0.00" font-size="25.00"> 0.1</tspan></text>
<path d="M190.1 779.7 H253" stroke="#000" stroke-width="3.5" stroke-dasharray="10.4 3.5" fill="none"/>
<path d="M190.1 818.4 H255.9" stroke="#000" stroke-width="3.5" fill="none"/>
<text x="266.50" y="782.00" font-size="25.00" text-anchor="start" font-style="italic" ><tspan dy="0.00" dx="0.00" font-size="25.00">ξ</tspan><tspan dy="5.50" dx="0.00" font-size="18.50">R</tspan><tspan dy="-2.50" dx="0.70" font-size="25.00">=</tspan><tspan dy="-3.00" dx="2.00" font-size="25.00">0.01</tspan></text>
<text x="266.50" y="820.50" font-size="25.00" text-anchor="start" font-style="italic" ><tspan dy="0.00" dx="0.00" font-size="25.00">ξ</tspan><tspan dy="5.50" dx="0.00" font-size="18.50">R</tspan><tspan dy="-2.50" dx="0.70" font-size="25.00">=</tspan><tspan dy="-3.00" dx="2.00" font-size="25.00">0</tspan></text>
</g>
</svg>
</body></html>
